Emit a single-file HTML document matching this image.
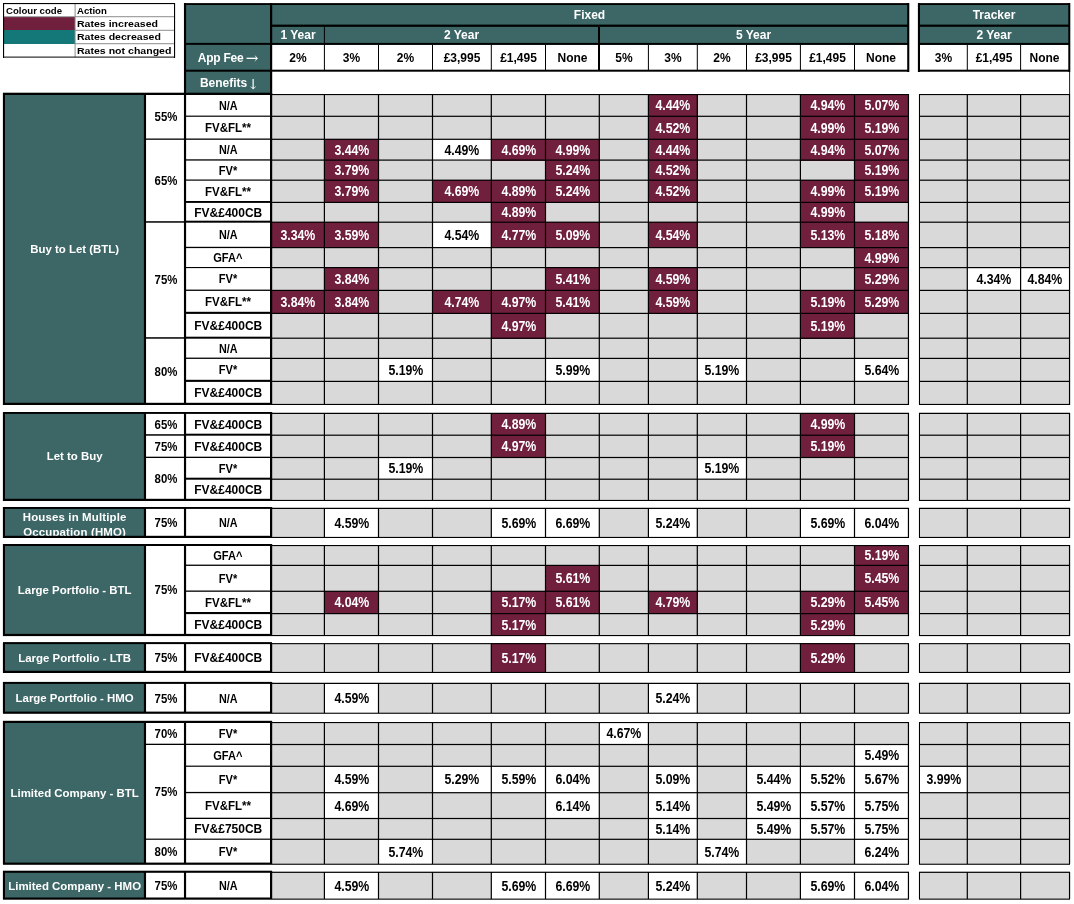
<!DOCTYPE html>
<html lang="en"><head><meta charset="utf-8"><title>Rates</title><style>
html,body{margin:0;padding:0;background:#fff}
#p{position:relative;width:1074px;height:904px;overflow:hidden;background:#fff;font-family:"Liberation Sans",sans-serif}
#p i,.t,.lg{position:absolute;display:block}
.t{display:flex;align-items:center;justify-content:center;text-align:center;white-space:nowrap;font-weight:bold}
.t span{display:inline-block}
.h{color:#fff;font-size:12px}
.ar{font:normal 15px "DejaVu Serif","DejaVu Sans",serif;line-height:10px;position:relative}
.a1{margin:0 0 0 -.6px;top:.7px;letter-spacing:0}
.a2{font-size:14px;margin:0 -3px;top:2.4px}
.f{color:#000;font-size:12px}
.n{color:#fff;font-size:11.45px;line-height:13px}
.n2{line-height:15px;letter-spacing:.15px}
.v{color:#000;font-size:12px}
.v span{transform:scaleX(.96)}
.v .s1{transform:none}
.v .s2{transform:scaleX(.9)}
.v .s3{transform:scaleX(.925)}
.lv span{transform:scaleX(.95)}
.d{color:#000;font-size:14px}
.d span{transform:scaleX(.88)}
.m{color:#fff}
.lg{font-size:9.6px;font-weight:bold;line-height:13px;color:#000;white-space:nowrap;transform-origin:0 50%}
.w{transform:scaleX(1.1)}
</style></head><body><div id="p">
<i style="left:4px;top:4px;width:171px;height:53px;background:#fff"></i>
<i style="left:4px;top:17px;width:71px;height:13px;background:#701f3c"></i>
<i style="left:4px;top:30px;width:71px;height:14px;background:#147878"></i>
<i style="left:185px;top:4px;width:723px;height:67px;background:#3d6666"></i>
<i style="left:272px;top:45px;width:636px;height:26px;background:#fff"></i>
<i style="left:185px;top:71px;width:86px;height:23px;background:#3d6666"></i>
<i style="left:919px;top:4px;width:150px;height:67px;background:#3d6666"></i>
<i style="left:920px;top:45px;width:149px;height:26px;background:#fff"></i>
<i style="left:4px;top:94px;width:141px;height:310px;background:#3d6666"></i>
<i style="left:145px;top:94px;width:126px;height:310px;background:#fff"></i>
<i style="left:271px;top:94px;width:638px;height:311px;background:#d9d9d9"></i>
<i style="left:919px;top:94px;width:151px;height:311px;background:#d9d9d9"></i>
<i style="left:648px;top:94px;width:50px;height:23px;background:#701f3c"></i>
<i style="left:800px;top:94px;width:55px;height:23px;background:#701f3c"></i>
<i style="left:854px;top:94px;width:55px;height:23px;background:#701f3c"></i>
<i style="left:648px;top:116px;width:50px;height:24px;background:#701f3c"></i>
<i style="left:800px;top:116px;width:55px;height:24px;background:#701f3c"></i>
<i style="left:854px;top:116px;width:55px;height:24px;background:#701f3c"></i>
<i style="left:324px;top:139px;width:55px;height:22px;background:#701f3c"></i>
<i style="left:432px;top:139px;width:60px;height:22px;background:#fff"></i>
<i style="left:491px;top:139px;width:55px;height:22px;background:#701f3c"></i>
<i style="left:545px;top:139px;width:55px;height:22px;background:#701f3c"></i>
<i style="left:648px;top:139px;width:50px;height:22px;background:#701f3c"></i>
<i style="left:800px;top:139px;width:55px;height:22px;background:#701f3c"></i>
<i style="left:854px;top:139px;width:55px;height:22px;background:#701f3c"></i>
<i style="left:324px;top:160px;width:55px;height:21px;background:#701f3c"></i>
<i style="left:545px;top:160px;width:55px;height:21px;background:#701f3c"></i>
<i style="left:648px;top:160px;width:50px;height:21px;background:#701f3c"></i>
<i style="left:854px;top:160px;width:55px;height:21px;background:#701f3c"></i>
<i style="left:324px;top:180px;width:55px;height:23px;background:#701f3c"></i>
<i style="left:432px;top:180px;width:60px;height:23px;background:#701f3c"></i>
<i style="left:491px;top:180px;width:55px;height:23px;background:#701f3c"></i>
<i style="left:545px;top:180px;width:55px;height:23px;background:#701f3c"></i>
<i style="left:648px;top:180px;width:50px;height:23px;background:#701f3c"></i>
<i style="left:800px;top:180px;width:55px;height:23px;background:#701f3c"></i>
<i style="left:854px;top:180px;width:55px;height:23px;background:#701f3c"></i>
<i style="left:491px;top:202px;width:55px;height:21px;background:#701f3c"></i>
<i style="left:800px;top:202px;width:55px;height:21px;background:#701f3c"></i>
<i style="left:272px;top:222px;width:53px;height:26px;background:#701f3c"></i>
<i style="left:324px;top:222px;width:55px;height:26px;background:#701f3c"></i>
<i style="left:432px;top:222px;width:60px;height:26px;background:#fff"></i>
<i style="left:491px;top:222px;width:55px;height:26px;background:#701f3c"></i>
<i style="left:545px;top:222px;width:55px;height:26px;background:#701f3c"></i>
<i style="left:648px;top:222px;width:50px;height:26px;background:#701f3c"></i>
<i style="left:800px;top:222px;width:55px;height:26px;background:#701f3c"></i>
<i style="left:854px;top:222px;width:55px;height:26px;background:#701f3c"></i>
<i style="left:854px;top:247px;width:55px;height:21px;background:#701f3c"></i>
<i style="left:324px;top:267px;width:55px;height:24px;background:#701f3c"></i>
<i style="left:545px;top:267px;width:55px;height:24px;background:#701f3c"></i>
<i style="left:648px;top:267px;width:50px;height:24px;background:#701f3c"></i>
<i style="left:854px;top:267px;width:55px;height:24px;background:#701f3c"></i>
<i style="left:967px;top:267px;width:54px;height:24px;background:#fff"></i>
<i style="left:1020px;top:267px;width:50px;height:24px;background:#fff"></i>
<i style="left:272px;top:290px;width:53px;height:24px;background:#701f3c"></i>
<i style="left:324px;top:290px;width:55px;height:24px;background:#701f3c"></i>
<i style="left:432px;top:290px;width:60px;height:24px;background:#701f3c"></i>
<i style="left:491px;top:290px;width:55px;height:24px;background:#701f3c"></i>
<i style="left:545px;top:290px;width:55px;height:24px;background:#701f3c"></i>
<i style="left:648px;top:290px;width:50px;height:24px;background:#701f3c"></i>
<i style="left:800px;top:290px;width:55px;height:24px;background:#701f3c"></i>
<i style="left:854px;top:290px;width:55px;height:24px;background:#701f3c"></i>
<i style="left:491px;top:313px;width:55px;height:26px;background:#701f3c"></i>
<i style="left:800px;top:313px;width:55px;height:26px;background:#701f3c"></i>
<i style="left:378px;top:358px;width:55px;height:24px;background:#fff"></i>
<i style="left:545px;top:358px;width:55px;height:24px;background:#fff"></i>
<i style="left:697px;top:358px;width:50px;height:24px;background:#fff"></i>
<i style="left:854px;top:358px;width:55px;height:24px;background:#fff"></i>
<i style="left:4px;top:413px;width:141px;height:87px;background:#3d6666"></i>
<i style="left:145px;top:413px;width:126px;height:87px;background:#fff"></i>
<i style="left:271px;top:412px;width:638px;height:89px;background:#d9d9d9"></i>
<i style="left:919px;top:412px;width:151px;height:89px;background:#d9d9d9"></i>
<i style="left:491px;top:413px;width:55px;height:23px;background:#701f3c"></i>
<i style="left:800px;top:413px;width:55px;height:23px;background:#701f3c"></i>
<i style="left:491px;top:435px;width:55px;height:23px;background:#701f3c"></i>
<i style="left:800px;top:435px;width:55px;height:23px;background:#701f3c"></i>
<i style="left:378px;top:457px;width:55px;height:23px;background:#fff"></i>
<i style="left:697px;top:457px;width:50px;height:23px;background:#fff"></i>
<i style="left:4px;top:508px;width:141px;height:29px;background:#3d6666"></i>
<i style="left:145px;top:508px;width:126px;height:29px;background:#fff"></i>
<i style="left:271px;top:507px;width:638px;height:31px;background:#d9d9d9"></i>
<i style="left:919px;top:507px;width:151px;height:31px;background:#d9d9d9"></i>
<i style="left:324px;top:508px;width:55px;height:30px;background:#fff"></i>
<i style="left:491px;top:508px;width:55px;height:30px;background:#fff"></i>
<i style="left:545px;top:508px;width:55px;height:30px;background:#fff"></i>
<i style="left:648px;top:508px;width:50px;height:30px;background:#fff"></i>
<i style="left:800px;top:508px;width:55px;height:30px;background:#fff"></i>
<i style="left:854px;top:508px;width:55px;height:30px;background:#fff"></i>
<i style="left:4px;top:545px;width:141px;height:90px;background:#3d6666"></i>
<i style="left:145px;top:545px;width:126px;height:90px;background:#fff"></i>
<i style="left:271px;top:545px;width:638px;height:91px;background:#d9d9d9"></i>
<i style="left:919px;top:545px;width:151px;height:91px;background:#d9d9d9"></i>
<i style="left:854px;top:545px;width:55px;height:21px;background:#701f3c"></i>
<i style="left:545px;top:565px;width:55px;height:27px;background:#701f3c"></i>
<i style="left:854px;top:565px;width:55px;height:27px;background:#701f3c"></i>
<i style="left:324px;top:591px;width:55px;height:23px;background:#701f3c"></i>
<i style="left:491px;top:591px;width:55px;height:23px;background:#701f3c"></i>
<i style="left:545px;top:591px;width:55px;height:23px;background:#701f3c"></i>
<i style="left:648px;top:591px;width:50px;height:23px;background:#701f3c"></i>
<i style="left:800px;top:591px;width:55px;height:23px;background:#701f3c"></i>
<i style="left:854px;top:591px;width:55px;height:23px;background:#701f3c"></i>
<i style="left:491px;top:613px;width:55px;height:23px;background:#701f3c"></i>
<i style="left:800px;top:613px;width:55px;height:23px;background:#701f3c"></i>
<i style="left:4px;top:643px;width:141px;height:29px;background:#3d6666"></i>
<i style="left:145px;top:643px;width:126px;height:29px;background:#fff"></i>
<i style="left:271px;top:643px;width:638px;height:30px;background:#d9d9d9"></i>
<i style="left:919px;top:643px;width:151px;height:30px;background:#d9d9d9"></i>
<i style="left:491px;top:643px;width:55px;height:30px;background:#701f3c"></i>
<i style="left:800px;top:643px;width:55px;height:30px;background:#701f3c"></i>
<i style="left:4px;top:683px;width:141px;height:30px;background:#3d6666"></i>
<i style="left:145px;top:683px;width:126px;height:30px;background:#fff"></i>
<i style="left:271px;top:682px;width:638px;height:31px;background:#d9d9d9"></i>
<i style="left:919px;top:682px;width:151px;height:31px;background:#d9d9d9"></i>
<i style="left:324px;top:683px;width:55px;height:31px;background:#fff"></i>
<i style="left:648px;top:683px;width:50px;height:31px;background:#fff"></i>
<i style="left:4px;top:722px;width:141px;height:142px;background:#3d6666"></i>
<i style="left:145px;top:722px;width:126px;height:142px;background:#fff"></i>
<i style="left:271px;top:722px;width:638px;height:142px;background:#d9d9d9"></i>
<i style="left:919px;top:722px;width:151px;height:142px;background:#d9d9d9"></i>
<i style="left:599px;top:722px;width:50px;height:23px;background:#fff"></i>
<i style="left:854px;top:744px;width:55px;height:23px;background:#fff"></i>
<i style="left:324px;top:766px;width:55px;height:27px;background:#fff"></i>
<i style="left:432px;top:766px;width:60px;height:27px;background:#fff"></i>
<i style="left:491px;top:766px;width:55px;height:27px;background:#fff"></i>
<i style="left:545px;top:766px;width:55px;height:27px;background:#fff"></i>
<i style="left:648px;top:766px;width:50px;height:27px;background:#fff"></i>
<i style="left:746px;top:766px;width:55px;height:27px;background:#fff"></i>
<i style="left:800px;top:766px;width:55px;height:27px;background:#fff"></i>
<i style="left:854px;top:766px;width:55px;height:27px;background:#fff"></i>
<i style="left:919px;top:766px;width:49px;height:27px;background:#fff"></i>
<i style="left:324px;top:792px;width:55px;height:27px;background:#fff"></i>
<i style="left:545px;top:792px;width:55px;height:27px;background:#fff"></i>
<i style="left:648px;top:792px;width:50px;height:27px;background:#fff"></i>
<i style="left:746px;top:792px;width:55px;height:27px;background:#fff"></i>
<i style="left:800px;top:792px;width:55px;height:27px;background:#fff"></i>
<i style="left:854px;top:792px;width:55px;height:27px;background:#fff"></i>
<i style="left:648px;top:818px;width:50px;height:22px;background:#fff"></i>
<i style="left:746px;top:818px;width:55px;height:22px;background:#fff"></i>
<i style="left:800px;top:818px;width:55px;height:22px;background:#fff"></i>
<i style="left:854px;top:818px;width:55px;height:22px;background:#fff"></i>
<i style="left:378px;top:839px;width:55px;height:26px;background:#fff"></i>
<i style="left:697px;top:839px;width:50px;height:26px;background:#fff"></i>
<i style="left:854px;top:839px;width:55px;height:26px;background:#fff"></i>
<i style="left:4px;top:872px;width:141px;height:27px;background:#3d6666"></i>
<i style="left:145px;top:872px;width:126px;height:27px;background:#fff"></i>
<i style="left:271px;top:871px;width:638px;height:28px;background:#d9d9d9"></i>
<i style="left:919px;top:871px;width:151px;height:28px;background:#d9d9d9"></i>
<i style="left:324px;top:872px;width:55px;height:28px;background:#fff"></i>
<i style="left:491px;top:872px;width:55px;height:28px;background:#fff"></i>
<i style="left:545px;top:872px;width:55px;height:28px;background:#fff"></i>
<i style="left:648px;top:872px;width:50px;height:28px;background:#fff"></i>
<i style="left:800px;top:872px;width:55px;height:28px;background:#fff"></i>
<i style="left:854px;top:872px;width:55px;height:28px;background:#fff"></i>
<div class="lg" style="left:6px;top:3.6px">Colour code</div>
<div class="lg" style="left:77px;top:3.6px">Action</div>
<div class="lg w" style="left:77px;top:16.6px">Rates increased</div>
<div class="lg w" style="left:77px;top:30.1px">Rates decreased</div>
<div class="lg w" style="left:77px;top:43.6px">Rates not changed</div>
<div class="t h" style="left:272px;top:5.19px;width:635px;height:19.6px;"><span>Fixed</span></div>
<div class="t h" style="left:272px;top:26.89px;width:52px;height:16.2px;"><span>1 Year</span></div>
<div class="t h" style="left:325px;top:26.89px;width:273px;height:16.2px;"><span>2 Year</span></div>
<div class="t h" style="left:600px;top:26.89px;width:307px;height:16.2px;"><span>5 Year</span></div>
<div class="t h" style="left:186px;top:45.54px;width:84.2px;height:24.9px;letter-spacing:-.25px;"><span>App Fee <b class="ar a1">→</b></span></div>
<div class="t h" style="left:186px;top:72.49px;width:84.2px;height:21px;"><span>Benefits <b class="ar a2">↓</b></span></div>
<div class="t f" style="left:272px;top:45.54px;width:52px;height:24.9px;"><span>2%</span></div>
<div class="t f" style="left:325px;top:45.54px;width:53px;height:24.9px;"><span>3%</span></div>
<div class="t f" style="left:379px;top:45.54px;width:53px;height:24.9px;"><span>2%</span></div>
<div class="t f" style="left:433px;top:45.54px;width:58px;height:24.9px;"><span>£3,995</span></div>
<div class="t f" style="left:492px;top:45.54px;width:53px;height:24.9px;"><span>£1,495</span></div>
<div class="t f" style="left:546px;top:45.54px;width:53px;height:24.9px;"><span>None</span></div>
<div class="t f" style="left:600px;top:45.54px;width:48px;height:24.9px;"><span>5%</span></div>
<div class="t f" style="left:649px;top:45.54px;width:48px;height:24.9px;"><span>3%</span></div>
<div class="t f" style="left:698px;top:45.54px;width:48px;height:24.9px;"><span>2%</span></div>
<div class="t f" style="left:747px;top:45.54px;width:53px;height:24.9px;"><span>£3,995</span></div>
<div class="t f" style="left:801px;top:45.54px;width:53px;height:24.9px;"><span>£1,495</span></div>
<div class="t f" style="left:855px;top:45.54px;width:52px;height:24.9px;"><span>None</span></div>
<div class="t h" style="left:920px;top:5.19px;width:148px;height:19.6px;"><span>Tracker</span></div>
<div class="t h" style="left:920px;top:26.89px;width:148px;height:16.2px;"><span>2 Year</span></div>
<div class="t f" style="left:920px;top:45.54px;width:47px;height:24.9px;"><span>3%</span></div>
<div class="t f" style="left:968px;top:45.54px;width:52px;height:24.9px;"><span>£1,495</span></div>
<div class="t f" style="left:1021px;top:45.54px;width:47px;height:24.9px;"><span>None</span></div>
<div class="t n" style="left:5px;top:95.03px;width:139.3px;height:308.3px;"><span>Buy to Let (BTL)</span></div>
<div class="t v lv" style="left:147.3px;top:95.09px;width:36.9px;height:43.8px;"><span>55%</span></div>
<div class="t v lv" style="left:147.3px;top:140.04px;width:36.9px;height:81.9px;"><span>65%</span></div>
<div class="t v lv" style="left:147.3px;top:222.49px;width:36.9px;height:115px;"><span>75%</span></div>
<div class="t v lv" style="left:147.3px;top:339.34px;width:36.9px;height:65.3px;"><span>80%</span></div>
<div class="t v" style="left:186.3px;top:95.59px;width:83.9px;height:20.8px;"><span class="s2">N/A</span></div>
<div class="t v" style="left:186.3px;top:116.99px;width:83.9px;height:22px;"><span>FV&FL**</span></div>
<div class="t v" style="left:186.3px;top:140.09px;width:83.9px;height:19.8px;"><span class="s2">N/A</span></div>
<div class="t v" style="left:186.3px;top:161.44px;width:83.9px;height:19.1px;"><span class="s3">FV*</span></div>
<div class="t v" style="left:186.3px;top:181.39px;width:83.9px;height:21.2px;"><span>FV&FL**</span></div>
<div class="t v" style="left:186.3px;top:203.59px;width:83.9px;height:18.8px;"><span class="s1">FV&£400CB</span></div>
<div class="t v" style="left:186.3px;top:222.79px;width:83.9px;height:24.4px;"><span class="s2">N/A</span></div>
<div class="t v" style="left:186.3px;top:248.49px;width:83.9px;height:19px;"><span class="s3">GFA^</span></div>
<div class="t v" style="left:186.3px;top:268.09px;width:83.9px;height:21.8px;"><span class="s3">FV*</span></div>
<div class="t v" style="left:186.3px;top:290.99px;width:83.9px;height:22px;"><span>FV&FL**</span></div>
<div class="t v" style="left:186.3px;top:314.09px;width:83.9px;height:23.8px;"><span class="s1">FV&£400CB</span></div>
<div class="t v" style="left:186.3px;top:339.39px;width:83.9px;height:19.2px;"><span class="s2">N/A</span></div>
<div class="t v" style="left:186.3px;top:358.99px;width:83.9px;height:22px;"><span class="s3">FV*</span></div>
<div class="t v" style="left:186.3px;top:381.94px;width:83.9px;height:22.1px;"><span class="s1">FV&£400CB</span></div>
<div class="t d m" style="left:649px;top:94.9px;width:48px;height:20.8px;"><span>4.44%</span></div>
<div class="t d m" style="left:801px;top:94.9px;width:53px;height:20.8px;"><span>4.94%</span></div>
<div class="t d m" style="left:855px;top:94.9px;width:53px;height:20.8px;"><span>5.07%</span></div>
<div class="t d m" style="left:649px;top:117.3px;width:48px;height:22px;"><span>4.52%</span></div>
<div class="t d m" style="left:801px;top:117.3px;width:53px;height:22px;"><span>4.99%</span></div>
<div class="t d m" style="left:855px;top:117.3px;width:53px;height:22px;"><span>5.19%</span></div>
<div class="t d m" style="left:325px;top:140.4px;width:53px;height:19.8px;"><span>3.44%</span></div>
<div class="t d" style="left:433px;top:140.4px;width:58px;height:19.8px;"><span>4.49%</span></div>
<div class="t d m" style="left:492px;top:140.4px;width:53px;height:19.8px;"><span>4.69%</span></div>
<div class="t d m" style="left:546px;top:140.4px;width:53px;height:19.8px;"><span>4.99%</span></div>
<div class="t d m" style="left:649px;top:140.4px;width:48px;height:19.8px;"><span>4.44%</span></div>
<div class="t d m" style="left:801px;top:140.4px;width:53px;height:19.8px;"><span>4.94%</span></div>
<div class="t d m" style="left:855px;top:140.4px;width:53px;height:19.8px;"><span>5.07%</span></div>
<div class="t d m" style="left:325px;top:160.75px;width:53px;height:19.1px;"><span>3.79%</span></div>
<div class="t d m" style="left:546px;top:160.75px;width:53px;height:19.1px;"><span>5.24%</span></div>
<div class="t d m" style="left:649px;top:160.75px;width:48px;height:19.1px;"><span>4.52%</span></div>
<div class="t d m" style="left:855px;top:160.75px;width:53px;height:19.1px;"><span>5.19%</span></div>
<div class="t d m" style="left:325px;top:180.7px;width:53px;height:21.2px;"><span>3.79%</span></div>
<div class="t d m" style="left:433px;top:180.7px;width:58px;height:21.2px;"><span>4.69%</span></div>
<div class="t d m" style="left:492px;top:180.7px;width:53px;height:21.2px;"><span>4.89%</span></div>
<div class="t d m" style="left:546px;top:180.7px;width:53px;height:21.2px;"><span>5.24%</span></div>
<div class="t d m" style="left:649px;top:180.7px;width:48px;height:21.2px;"><span>4.52%</span></div>
<div class="t d m" style="left:801px;top:180.7px;width:53px;height:21.2px;"><span>4.99%</span></div>
<div class="t d m" style="left:855px;top:180.7px;width:53px;height:21.2px;"><span>5.19%</span></div>
<div class="t d m" style="left:492px;top:202.9px;width:53px;height:18.8px;"><span>4.89%</span></div>
<div class="t d m" style="left:801px;top:202.9px;width:53px;height:18.8px;"><span>4.99%</span></div>
<div class="t d m" style="left:272px;top:223.1px;width:52px;height:24.4px;"><span>3.34%</span></div>
<div class="t d m" style="left:325px;top:223.1px;width:53px;height:24.4px;"><span>3.59%</span></div>
<div class="t d" style="left:433px;top:223.1px;width:58px;height:24.4px;"><span>4.54%</span></div>
<div class="t d m" style="left:492px;top:223.1px;width:53px;height:24.4px;"><span>4.77%</span></div>
<div class="t d m" style="left:546px;top:223.1px;width:53px;height:24.4px;"><span>5.09%</span></div>
<div class="t d m" style="left:649px;top:223.1px;width:48px;height:24.4px;"><span>4.54%</span></div>
<div class="t d m" style="left:801px;top:223.1px;width:53px;height:24.4px;"><span>5.13%</span></div>
<div class="t d m" style="left:855px;top:223.1px;width:53px;height:24.4px;"><span>5.18%</span></div>
<div class="t d m" style="left:855px;top:248.8px;width:53px;height:19px;"><span>4.99%</span></div>
<div class="t d m" style="left:325px;top:268.4px;width:53px;height:21.8px;"><span>3.84%</span></div>
<div class="t d m" style="left:546px;top:268.4px;width:53px;height:21.8px;"><span>5.41%</span></div>
<div class="t d m" style="left:649px;top:268.4px;width:48px;height:21.8px;"><span>4.59%</span></div>
<div class="t d m" style="left:855px;top:268.4px;width:53px;height:21.8px;"><span>5.29%</span></div>
<div class="t d" style="left:968px;top:268.4px;width:52px;height:21.8px;"><span>4.34%</span></div>
<div class="t d" style="left:1021px;top:268.4px;width:48px;height:21.8px;"><span>4.84%</span></div>
<div class="t d m" style="left:272px;top:291.3px;width:52px;height:22px;"><span>3.84%</span></div>
<div class="t d m" style="left:325px;top:291.3px;width:53px;height:22px;"><span>3.84%</span></div>
<div class="t d m" style="left:433px;top:291.3px;width:58px;height:22px;"><span>4.74%</span></div>
<div class="t d m" style="left:492px;top:291.3px;width:53px;height:22px;"><span>4.97%</span></div>
<div class="t d m" style="left:546px;top:291.3px;width:53px;height:22px;"><span>5.41%</span></div>
<div class="t d m" style="left:649px;top:291.3px;width:48px;height:22px;"><span>4.59%</span></div>
<div class="t d m" style="left:801px;top:291.3px;width:53px;height:22px;"><span>5.19%</span></div>
<div class="t d m" style="left:855px;top:291.3px;width:53px;height:22px;"><span>5.29%</span></div>
<div class="t d m" style="left:492px;top:314.4px;width:53px;height:23.8px;"><span>4.97%</span></div>
<div class="t d m" style="left:801px;top:314.4px;width:53px;height:23.8px;"><span>5.19%</span></div>
<div class="t d" style="left:379px;top:359.3px;width:53px;height:22px;"><span>5.19%</span></div>
<div class="t d" style="left:546px;top:359.3px;width:53px;height:22px;"><span>5.99%</span></div>
<div class="t d" style="left:698px;top:359.3px;width:48px;height:22px;"><span>5.19%</span></div>
<div class="t d" style="left:855px;top:359.3px;width:53px;height:22px;"><span>5.64%</span></div>
<div class="t n" style="left:5px;top:413.68px;width:139.3px;height:85px;"><span>Let to Buy</span></div>
<div class="t v lv" style="left:147.3px;top:414.59px;width:36.9px;height:20.8px;"><span>65%</span></div>
<div class="t v lv" style="left:147.3px;top:436.34px;width:36.9px;height:21.3px;"><span>75%</span></div>
<div class="t v lv" style="left:147.3px;top:457.99px;width:36.9px;height:42px;"><span>80%</span></div>
<div class="t v" style="left:186.3px;top:414.59px;width:83.9px;height:20.8px;"><span class="s1">FV&£400CB</span></div>
<div class="t v" style="left:186.3px;top:436.34px;width:83.9px;height:21.3px;"><span class="s1">FV&£400CB</span></div>
<div class="t v" style="left:186.3px;top:458.64px;width:83.9px;height:20.7px;"><span class="s3">FV*</span></div>
<div class="t v" style="left:186.3px;top:479.84px;width:83.9px;height:20.3px;"><span class="s1">FV&£400CB</span></div>
<div class="t d m" style="left:492px;top:413.9px;width:53px;height:20.8px;"><span>4.89%</span></div>
<div class="t d m" style="left:801px;top:413.9px;width:53px;height:20.8px;"><span>4.99%</span></div>
<div class="t d m" style="left:492px;top:435.65px;width:53px;height:21.3px;"><span>4.97%</span></div>
<div class="t d m" style="left:801px;top:435.65px;width:53px;height:21.3px;"><span>5.19%</span></div>
<div class="t d" style="left:379px;top:457.95px;width:53px;height:20.7px;"><span>5.19%</span></div>
<div class="t d" style="left:698px;top:457.95px;width:48px;height:20.7px;"><span>5.19%</span></div>
<div class="t n n2" style="left:5px;top:510px;width:139.3px;height:29px;"><span>Houses in Multiple<br>Occupation (HMO)</span></div>
<div class="t v lv" style="left:147.3px;top:508.94px;width:36.9px;height:28.1px;"><span>75%</span></div>
<div class="t v" style="left:186.3px;top:508.94px;width:83.9px;height:28.1px;"><span class="s2">N/A</span></div>
<div class="t d" style="left:325px;top:509.25px;width:53px;height:28.1px;"><span>4.59%</span></div>
<div class="t d" style="left:492px;top:509.25px;width:53px;height:28.1px;"><span>5.69%</span></div>
<div class="t d" style="left:546px;top:509.25px;width:53px;height:28.1px;"><span>6.69%</span></div>
<div class="t d" style="left:649px;top:509.25px;width:48px;height:28.1px;"><span>5.24%</span></div>
<div class="t d" style="left:801px;top:509.25px;width:53px;height:28.1px;"><span>5.69%</span></div>
<div class="t d" style="left:855px;top:509.25px;width:53px;height:28.1px;"><span>6.04%</span></div>
<div class="t n" style="left:5px;top:546.13px;width:139.3px;height:88.1px;"><span>Large Portfolio - BTL</span></div>
<div class="t v lv" style="left:147.3px;top:545.44px;width:36.9px;height:89.1px;"><span>75%</span></div>
<div class="t v" style="left:186.3px;top:546.54px;width:83.9px;height:18.9px;"><span class="s3">GFA^</span></div>
<div class="t v" style="left:186.3px;top:566.54px;width:83.9px;height:24.9px;"><span class="s3">FV*</span></div>
<div class="t v" style="left:186.3px;top:592.34px;width:83.9px;height:21.3px;"><span>FV&FL**</span></div>
<div class="t v" style="left:186.3px;top:614.49px;width:83.9px;height:21px;"><span class="s1">FV&£400CB</span></div>
<div class="t d m" style="left:855px;top:545.85px;width:53px;height:18.9px;"><span>5.19%</span></div>
<div class="t d m" style="left:546px;top:565.85px;width:53px;height:24.9px;"><span>5.61%</span></div>
<div class="t d m" style="left:855px;top:565.85px;width:53px;height:24.9px;"><span>5.45%</span></div>
<div class="t d m" style="left:325px;top:591.65px;width:53px;height:21.3px;"><span>4.04%</span></div>
<div class="t d m" style="left:492px;top:591.65px;width:53px;height:21.3px;"><span>5.17%</span></div>
<div class="t d m" style="left:546px;top:591.65px;width:53px;height:21.3px;"><span>5.61%</span></div>
<div class="t d m" style="left:649px;top:591.65px;width:48px;height:21.3px;"><span>4.79%</span></div>
<div class="t d m" style="left:801px;top:591.65px;width:53px;height:21.3px;"><span>5.29%</span></div>
<div class="t d m" style="left:855px;top:591.65px;width:53px;height:21.3px;"><span>5.45%</span></div>
<div class="t d m" style="left:492px;top:614.8px;width:53px;height:21px;"><span>5.17%</span></div>
<div class="t d m" style="left:801px;top:614.8px;width:53px;height:21px;"><span>5.29%</span></div>
<div class="t n" style="left:5px;top:644.73px;width:139.3px;height:26.9px;"><span>Large Portfolio - LTB</span></div>
<div class="t v lv" style="left:147.3px;top:644.04px;width:36.9px;height:27.9px;"><span>75%</span></div>
<div class="t v" style="left:186.3px;top:644.04px;width:83.9px;height:27.9px;"><span class="s1">FV&£400CB</span></div>
<div class="t d m" style="left:492px;top:644.35px;width:53px;height:27.9px;"><span>5.17%</span></div>
<div class="t d m" style="left:801px;top:644.35px;width:53px;height:27.9px;"><span>5.29%</span></div>
<div class="t n" style="left:5px;top:684.23px;width:139.3px;height:27.9px;"><span>Large Portfolio - HMO</span></div>
<div class="t v lv" style="left:147.3px;top:684.54px;width:36.9px;height:28.9px;"><span>75%</span></div>
<div class="t v" style="left:186.3px;top:684.54px;width:83.9px;height:28.9px;"><span class="s2">N/A</span></div>
<div class="t d" style="left:325px;top:683.85px;width:53px;height:28.9px;"><span>4.59%</span></div>
<div class="t d" style="left:649px;top:683.85px;width:48px;height:28.9px;"><span>5.24%</span></div>
<div class="t n" style="left:5px;top:723.18px;width:139.3px;height:140px;"><span>Limited Company - BTL</span></div>
<div class="t v lv" style="left:147.3px;top:723.49px;width:36.9px;height:21px;"><span>70%</span></div>
<div class="t v lv" style="left:147.3px;top:745.09px;width:36.9px;height:93.8px;"><span>75%</span></div>
<div class="t v lv" style="left:147.3px;top:839.99px;width:36.9px;height:24px;"><span>80%</span></div>
<div class="t v" style="left:186.3px;top:723.49px;width:83.9px;height:21px;"><span class="s3">FV*</span></div>
<div class="t v" style="left:186.3px;top:745.59px;width:83.9px;height:20.8px;"><span class="s3">GFA^</span></div>
<div class="t v" style="left:186.3px;top:767.29px;width:83.9px;height:25.4px;"><span class="s3">FV*</span></div>
<div class="t v" style="left:186.3px;top:793.59px;width:83.9px;height:24.8px;"><span>FV&FL**</span></div>
<div class="t v" style="left:186.3px;top:819.09px;width:83.9px;height:19.8px;"><span class="s1">FV&£750CB</span></div>
<div class="t v" style="left:186.3px;top:839.99px;width:83.9px;height:24px;"><span class="s3">FV*</span></div>
<div class="t d" style="left:600px;top:722.8px;width:48px;height:21px;"><span>4.67%</span></div>
<div class="t d" style="left:855px;top:744.9px;width:53px;height:20.8px;"><span>5.49%</span></div>
<div class="t d" style="left:325px;top:766.6px;width:53px;height:25.4px;"><span>4.59%</span></div>
<div class="t d" style="left:433px;top:766.6px;width:58px;height:25.4px;"><span>5.29%</span></div>
<div class="t d" style="left:492px;top:766.6px;width:53px;height:25.4px;"><span>5.59%</span></div>
<div class="t d" style="left:546px;top:766.6px;width:53px;height:25.4px;"><span>6.04%</span></div>
<div class="t d" style="left:649px;top:766.6px;width:48px;height:25.4px;"><span>5.09%</span></div>
<div class="t d" style="left:747px;top:766.6px;width:53px;height:25.4px;"><span>5.44%</span></div>
<div class="t d" style="left:801px;top:766.6px;width:53px;height:25.4px;"><span>5.52%</span></div>
<div class="t d" style="left:855px;top:766.6px;width:53px;height:25.4px;"><span>5.67%</span></div>
<div class="t d" style="left:920px;top:766.6px;width:47px;height:25.4px;"><span>3.99%</span></div>
<div class="t d" style="left:325px;top:793.9px;width:53px;height:24.8px;"><span>4.69%</span></div>
<div class="t d" style="left:546px;top:793.9px;width:53px;height:24.8px;"><span>6.14%</span></div>
<div class="t d" style="left:649px;top:793.9px;width:48px;height:24.8px;"><span>5.14%</span></div>
<div class="t d" style="left:747px;top:793.9px;width:53px;height:24.8px;"><span>5.49%</span></div>
<div class="t d" style="left:801px;top:793.9px;width:53px;height:24.8px;"><span>5.57%</span></div>
<div class="t d" style="left:855px;top:793.9px;width:53px;height:24.8px;"><span>5.75%</span></div>
<div class="t d" style="left:649px;top:819.4px;width:48px;height:19.8px;"><span>5.14%</span></div>
<div class="t d" style="left:747px;top:819.4px;width:53px;height:19.8px;"><span>5.49%</span></div>
<div class="t d" style="left:801px;top:819.4px;width:53px;height:19.8px;"><span>5.57%</span></div>
<div class="t d" style="left:855px;top:819.4px;width:53px;height:19.8px;"><span>5.75%</span></div>
<div class="t d" style="left:379px;top:840.3px;width:53px;height:24px;"><span>5.74%</span></div>
<div class="t d" style="left:698px;top:840.3px;width:48px;height:24px;"><span>5.74%</span></div>
<div class="t d" style="left:855px;top:840.3px;width:53px;height:24px;"><span>6.24%</span></div>
<div class="t n" style="left:5px;top:873.68px;width:139.3px;height:25px;"><span>Limited Company - HMO</span></div>
<div class="t v lv" style="left:147.3px;top:873.04px;width:36.9px;height:25.9px;"><span>75%</span></div>
<div class="t v" style="left:186.3px;top:873.04px;width:83.9px;height:25.9px;"><span class="s2">N/A</span></div>
<div class="t d" style="left:325px;top:873.35px;width:53px;height:25.9px;"><span>4.59%</span></div>
<div class="t d" style="left:492px;top:873.35px;width:53px;height:25.9px;"><span>5.69%</span></div>
<div class="t d" style="left:546px;top:873.35px;width:53px;height:25.9px;"><span>6.69%</span></div>
<div class="t d" style="left:649px;top:873.35px;width:48px;height:25.9px;"><span>5.24%</span></div>
<div class="t d" style="left:801px;top:873.35px;width:53px;height:25.9px;"><span>5.69%</span></div>
<div class="t d" style="left:855px;top:873.35px;width:53px;height:25.9px;"><span>6.04%</span></div>
<i style="left:75px;top:16px;width:99.5px;height:1px;background:rgba(140,140,140,0.8)"></i>
<i style="left:75px;top:17px;width:99.5px;height:1px;background:rgba(140,140,140,0.2)"></i>
<i style="left:75px;top:29px;width:99.5px;height:1px;background:rgba(140,140,140,0.2)"></i>
<i style="left:75px;top:30px;width:99.5px;height:1px;background:rgba(140,140,140,0.8)"></i>
<i style="left:75px;top:43px;width:99.5px;height:1px;background:rgba(140,140,140,0.8)"></i>
<i style="left:75px;top:44px;width:99.5px;height:1px;background:rgba(140,140,140,0.2)"></i>
<i style="left:4px;top:16px;width:71px;height:1px;background:rgba(140,140,140,0.8)"></i>
<i style="left:4px;top:17px;width:71px;height:1px;background:rgba(140,140,140,0.2)"></i>
<i style="left:74px;top:4px;width:1px;height:53px;background:rgba(140,140,140,0.4)"></i>
<i style="left:75px;top:4px;width:1px;height:53px;background:rgba(140,140,140,0.6)"></i>
<i style="left:3px;top:3px;width:172px;height:1px;background:rgb(0,0,0)"></i>
<i style="left:3px;top:4px;width:172px;height:1px;background:rgba(0,0,0,0.1)"></i>
<i style="left:3px;top:56px;width:172px;height:1px;background:rgba(0,0,0,0.4)"></i>
<i style="left:3px;top:57px;width:172px;height:1px;background:rgba(0,0,0,0.6)"></i>
<i style="left:3px;top:3px;width:1px;height:54.6px;background:rgb(0,0,0)"></i>
<i style="left:4px;top:3px;width:1px;height:54.6px;background:rgba(0,0,0,0.1)"></i>
<i style="left:174px;top:3px;width:1px;height:54.6px;background:rgb(0,0,0)"></i>
<i style="left:175px;top:3px;width:1px;height:54.6px;background:rgba(0,0,0,0.1)"></i>
<i style="left:323px;top:26.8px;width:1px;height:42.9px;background:rgba(0,0,0,0.1)"></i>
<i style="left:324px;top:26.8px;width:1px;height:42.9px;background:rgba(0,0,0,0.9)"></i>
<i style="left:378px;top:44.8px;width:1px;height:24.9px;background:rgb(0,0,0)"></i>
<i style="left:432px;top:44.8px;width:1px;height:24.9px;background:rgb(0,0,0)"></i>
<i style="left:490px;top:44.8px;width:1px;height:24.9px;background:rgba(0,0,0,0.2)"></i>
<i style="left:491px;top:44.8px;width:1px;height:24.9px;background:rgba(0,0,0,0.8)"></i>
<i style="left:545px;top:44.8px;width:1px;height:24.9px;background:rgb(0,0,0)"></i>
<i style="left:598px;top:26.8px;width:1px;height:42.9px;background:rgb(0,0,0)"></i>
<i style="left:599px;top:26.8px;width:1px;height:42.9px;background:rgb(0,0,0)"></i>
<i style="left:647px;top:44.8px;width:1px;height:24.9px;background:rgba(0,0,0,0.1)"></i>
<i style="left:648px;top:44.8px;width:1px;height:24.9px;background:rgba(0,0,0,0.9)"></i>
<i style="left:696px;top:44.8px;width:1px;height:24.9px;background:rgba(0,0,0,0.2)"></i>
<i style="left:697px;top:44.8px;width:1px;height:24.9px;background:rgba(0,0,0,0.8)"></i>
<i style="left:746px;top:44.8px;width:1px;height:24.9px;background:rgb(0,0,0)"></i>
<i style="left:799px;top:44.8px;width:1px;height:24.9px;background:rgba(0,0,0,0.1)"></i>
<i style="left:800px;top:44.8px;width:1px;height:24.9px;background:rgba(0,0,0,0.9)"></i>
<i style="left:854px;top:44.8px;width:1px;height:24.9px;background:rgb(0,0,0)"></i>
<i style="left:183.95px;top:3px;width:725.35px;height:1px;background:rgba(0,0,0,0.9)"></i>
<i style="left:183.95px;top:4px;width:725.35px;height:1px;background:rgb(0,0,0)"></i>
<i style="left:272px;top:24px;width:637.3px;height:1px;background:rgba(0,0,0,0.4)"></i>
<i style="left:272px;top:25px;width:637.3px;height:1px;background:rgb(0,0,0)"></i>
<i style="left:272px;top:26px;width:637.3px;height:1px;background:rgba(0,0,0,0.85)"></i>
<i style="left:183.95px;top:42px;width:725.35px;height:1px;background:rgba(0,0,0,0.1)"></i>
<i style="left:183.95px;top:43px;width:725.35px;height:1px;background:rgb(0,0,0)"></i>
<i style="left:183.95px;top:44px;width:725.35px;height:1px;background:rgba(0,0,0,0.85)"></i>
<i style="left:183.95px;top:69px;width:725.35px;height:1px;background:rgba(0,0,0,0.3)"></i>
<i style="left:183.95px;top:70px;width:725.35px;height:1px;background:rgb(0,0,0)"></i>
<i style="left:183.95px;top:71px;width:725.35px;height:1px;background:rgba(0,0,0,0.7)"></i>
<i style="left:183px;top:3.1px;width:1px;height:91.6px;background:rgba(0,0,0,0.05)"></i>
<i style="left:184px;top:3.1px;width:1px;height:91.6px;background:rgb(0,0,0)"></i>
<i style="left:185px;top:3.1px;width:1px;height:91.6px;background:rgb(0,0,0)"></i>
<i style="left:186px;top:3.1px;width:1px;height:91.6px;background:rgba(0,0,0,0.1)"></i>
<i style="left:270px;top:3.1px;width:1px;height:91.6px;background:rgb(0,0,0)"></i>
<i style="left:271px;top:3.1px;width:1px;height:91.6px;background:rgb(0,0,0)"></i>
<i style="left:272px;top:3.1px;width:1px;height:91.6px;background:rgba(0,0,0,0.2)"></i>
<i style="left:907px;top:3.1px;width:1px;height:68.6px;background:rgba(0,0,0,0.8)"></i>
<i style="left:908px;top:3.1px;width:1px;height:68.6px;background:rgb(0,0,0)"></i>
<i style="left:909px;top:3.1px;width:1px;height:68.6px;background:rgba(0,0,0,0.3)"></i>
<i style="left:966px;top:44.8px;width:1px;height:24.9px;background:rgba(0,0,0,0.2)"></i>
<i style="left:967px;top:44.8px;width:1px;height:24.9px;background:rgba(0,0,0,0.8)"></i>
<i style="left:1020px;top:44.8px;width:1px;height:24.9px;background:rgba(0,0,0,0.9)"></i>
<i style="left:1021px;top:44.8px;width:1px;height:24.9px;background:rgba(0,0,0,0.1)"></i>
<i style="left:917.9px;top:3px;width:152.4px;height:1px;background:rgba(0,0,0,0.9)"></i>
<i style="left:917.9px;top:4px;width:152.4px;height:1px;background:rgb(0,0,0)"></i>
<i style="left:917.9px;top:24px;width:152.4px;height:1px;background:rgba(0,0,0,0.4)"></i>
<i style="left:917.9px;top:25px;width:152.4px;height:1px;background:rgb(0,0,0)"></i>
<i style="left:917.9px;top:26px;width:152.4px;height:1px;background:rgba(0,0,0,0.8)"></i>
<i style="left:917.9px;top:42px;width:152.4px;height:1px;background:rgba(0,0,0,0.1)"></i>
<i style="left:917.9px;top:43px;width:152.4px;height:1px;background:rgb(0,0,0)"></i>
<i style="left:917.9px;top:44px;width:152.4px;height:1px;background:rgba(0,0,0,0.9)"></i>
<i style="left:917.9px;top:69px;width:152.4px;height:1px;background:rgba(0,0,0,0.3)"></i>
<i style="left:917.9px;top:70px;width:152.4px;height:1px;background:rgb(0,0,0)"></i>
<i style="left:917.9px;top:71px;width:152.4px;height:1px;background:rgba(0,0,0,0.7)"></i>
<i style="left:917px;top:3.1px;width:1px;height:68.6px;background:rgba(0,0,0,0.1)"></i>
<i style="left:918px;top:3.1px;width:1px;height:68.6px;background:rgb(0,0,0)"></i>
<i style="left:919px;top:3.1px;width:1px;height:68.6px;background:rgb(0,0,0)"></i>
<i style="left:1068px;top:3.1px;width:1px;height:68.6px;background:rgba(0,0,0,0.7)"></i>
<i style="left:1069px;top:3.1px;width:1px;height:68.6px;background:rgb(0,0,0)"></i>
<i style="left:1070px;top:3.1px;width:1px;height:68.6px;background:rgba(0,0,0,0.3)"></i>
<i style="left:1069px;top:71.7px;width:1px;height:22.3px;background:rgba(0,0,0,0.8)"></i>
<i style="left:1070px;top:71.7px;width:1px;height:22.3px;background:rgba(0,0,0,0.1)"></i>
<i style="left:3px;top:92px;width:269.2px;height:1px;background:rgba(0,0,0,0.3)"></i>
<i style="left:3px;top:93px;width:269.2px;height:1px;background:rgb(0,0,0)"></i>
<i style="left:3px;top:94px;width:269.2px;height:1px;background:rgb(0,0,0)"></i>
<i style="left:272.2px;top:94px;width:636.85px;height:1px;background:rgb(0,0,0)"></i>
<i style="left:272.2px;top:95px;width:636.85px;height:1px;background:rgba(0,0,0,0.1)"></i>
<i style="left:918.95px;top:94px;width:151.2px;height:1px;background:rgb(0,0,0)"></i>
<i style="left:918.95px;top:95px;width:151.2px;height:1px;background:rgba(0,0,0,0.1)"></i>
<i style="left:186.3px;top:115px;width:83.9px;height:1px;background:rgba(0,0,0,0.4)"></i>
<i style="left:186.3px;top:116px;width:83.9px;height:1px;background:rgba(0,0,0,0.8)"></i>
<i style="left:272.2px;top:115px;width:636.85px;height:1px;background:rgba(0,0,0,0.3)"></i>
<i style="left:272.2px;top:116px;width:636.85px;height:1px;background:rgba(0,0,0,0.9)"></i>
<i style="left:918.95px;top:115px;width:151.2px;height:1px;background:rgba(0,0,0,0.3)"></i>
<i style="left:918.95px;top:116px;width:151.2px;height:1px;background:rgba(0,0,0,0.9)"></i>
<i style="left:186.3px;top:138px;width:83.9px;height:1px;background:rgba(0,0,0,0.5)"></i>
<i style="left:186.3px;top:139px;width:83.9px;height:1px;background:rgba(0,0,0,0.8)"></i>
<i style="left:146.3px;top:138px;width:37.9px;height:1px;background:rgba(0,0,0,0.5)"></i>
<i style="left:146.3px;top:139px;width:37.9px;height:1px;background:rgba(0,0,0,0.8)"></i>
<i style="left:272.2px;top:138px;width:636.85px;height:1px;background:rgba(0,0,0,0.3)"></i>
<i style="left:272.2px;top:139px;width:636.85px;height:1px;background:rgba(0,0,0,0.9)"></i>
<i style="left:918.95px;top:138px;width:151.2px;height:1px;background:rgba(0,0,0,0.3)"></i>
<i style="left:918.95px;top:139px;width:151.2px;height:1px;background:rgba(0,0,0,0.9)"></i>
<i style="left:186.3px;top:159px;width:83.9px;height:1px;background:rgba(0,0,0,0.7)"></i>
<i style="left:186.3px;top:160px;width:83.9px;height:1px;background:rgba(0,0,0,0.6)"></i>
<i style="left:272.2px;top:159px;width:636.85px;height:1px;background:rgba(0,0,0,0.5)"></i>
<i style="left:272.2px;top:160px;width:636.85px;height:1px;background:rgba(0,0,0,0.7)"></i>
<i style="left:918.95px;top:159px;width:151.2px;height:1px;background:rgba(0,0,0,0.5)"></i>
<i style="left:918.95px;top:160px;width:151.2px;height:1px;background:rgba(0,0,0,0.7)"></i>
<i style="left:186.3px;top:179px;width:83.9px;height:1px;background:rgba(0,0,0,0.5)"></i>
<i style="left:186.3px;top:180px;width:83.9px;height:1px;background:rgba(0,0,0,0.7)"></i>
<i style="left:272.2px;top:179px;width:636.85px;height:1px;background:rgba(0,0,0,0.4)"></i>
<i style="left:272.2px;top:180px;width:636.85px;height:1px;background:rgba(0,0,0,0.8)"></i>
<i style="left:918.95px;top:179px;width:151.2px;height:1px;background:rgba(0,0,0,0.4)"></i>
<i style="left:918.95px;top:180px;width:151.2px;height:1px;background:rgba(0,0,0,0.8)"></i>
<i style="left:186.3px;top:201px;width:83.9px;height:1px;background:rgb(0,0,0)"></i>
<i style="left:186.3px;top:202px;width:83.9px;height:1px;background:rgba(0,0,0,0.9)"></i>
<i style="left:272.2px;top:201px;width:636.85px;height:1px;background:rgba(0,0,0,0.2)"></i>
<i style="left:272.2px;top:202px;width:636.85px;height:1px;background:rgb(0,0,0)"></i>
<i style="left:918.95px;top:201px;width:151.2px;height:1px;background:rgba(0,0,0,0.2)"></i>
<i style="left:918.95px;top:202px;width:151.2px;height:1px;background:rgb(0,0,0)"></i>
<i style="left:186.3px;top:220px;width:83.9px;height:1px;background:rgba(0,0,0,0.3)"></i>
<i style="left:186.3px;top:221px;width:83.9px;height:1px;background:rgb(0,0,0)"></i>
<i style="left:186.3px;top:222px;width:83.9px;height:1px;background:rgba(0,0,0,0.7)"></i>
<i style="left:146.3px;top:221px;width:37.9px;height:1px;background:rgba(0,0,0,0.8)"></i>
<i style="left:146.3px;top:222px;width:37.9px;height:1px;background:rgba(0,0,0,0.7)"></i>
<i style="left:272.2px;top:221px;width:636.85px;height:1px;background:rgba(0,0,0,0.4)"></i>
<i style="left:272.2px;top:222px;width:636.85px;height:1px;background:rgba(0,0,0,0.8)"></i>
<i style="left:918.95px;top:221px;width:151.2px;height:1px;background:rgba(0,0,0,0.4)"></i>
<i style="left:918.95px;top:222px;width:151.2px;height:1px;background:rgba(0,0,0,0.8)"></i>
<i style="left:186.3px;top:246px;width:83.9px;height:1px;background:rgba(0,0,0,0.2)"></i>
<i style="left:186.3px;top:247px;width:83.9px;height:1px;background:rgb(0,0,0)"></i>
<i style="left:186.3px;top:248px;width:83.9px;height:1px;background:rgba(0,0,0,0.1)"></i>
<i style="left:272.2px;top:247px;width:636.85px;height:1px;background:rgb(0,0,0)"></i>
<i style="left:272.2px;top:248px;width:636.85px;height:1px;background:rgba(0,0,0,0.2)"></i>
<i style="left:918.95px;top:247px;width:151.2px;height:1px;background:rgb(0,0,0)"></i>
<i style="left:918.95px;top:248px;width:151.2px;height:1px;background:rgba(0,0,0,0.2)"></i>
<i style="left:186.3px;top:267px;width:83.9px;height:1px;background:rgb(0,0,0)"></i>
<i style="left:186.3px;top:268px;width:83.9px;height:1px;background:rgba(0,0,0,0.1)"></i>
<i style="left:272.2px;top:267px;width:636.85px;height:1px;background:rgb(0,0,0)"></i>
<i style="left:272.2px;top:268px;width:636.85px;height:1px;background:rgba(0,0,0,0.2)"></i>
<i style="left:918.95px;top:267px;width:151.2px;height:1px;background:rgb(0,0,0)"></i>
<i style="left:918.95px;top:268px;width:151.2px;height:1px;background:rgba(0,0,0,0.2)"></i>
<i style="left:186.3px;top:289px;width:83.9px;height:1px;background:rgba(0,0,0,0.4)"></i>
<i style="left:186.3px;top:290px;width:83.9px;height:1px;background:rgba(0,0,0,0.9)"></i>
<i style="left:272.2px;top:289px;width:636.85px;height:1px;background:rgba(0,0,0,0.2)"></i>
<i style="left:272.2px;top:290px;width:636.85px;height:1px;background:rgb(0,0,0)"></i>
<i style="left:918.95px;top:289px;width:151.2px;height:1px;background:rgba(0,0,0,0.2)"></i>
<i style="left:918.95px;top:290px;width:151.2px;height:1px;background:rgb(0,0,0)"></i>
<i style="left:186.3px;top:311px;width:83.9px;height:1px;background:rgba(0,0,0,0.2)"></i>
<i style="left:186.3px;top:312px;width:83.9px;height:1px;background:rgb(0,0,0)"></i>
<i style="left:186.3px;top:313px;width:83.9px;height:1px;background:rgba(0,0,0,0.9)"></i>
<i style="left:272.2px;top:312px;width:636.85px;height:1px;background:rgba(0,0,0,0.2)"></i>
<i style="left:272.2px;top:313px;width:636.85px;height:1px;background:rgb(0,0,0)"></i>
<i style="left:918.95px;top:312px;width:151.2px;height:1px;background:rgba(0,0,0,0.2)"></i>
<i style="left:918.95px;top:313px;width:151.2px;height:1px;background:rgb(0,0,0)"></i>
<i style="left:186.3px;top:336px;width:83.9px;height:1px;background:rgba(0,0,0,0.3)"></i>
<i style="left:186.3px;top:337px;width:83.9px;height:1px;background:rgb(0,0,0)"></i>
<i style="left:186.3px;top:338px;width:83.9px;height:1px;background:rgba(0,0,0,0.7)"></i>
<i style="left:146.3px;top:337px;width:37.9px;height:1px;background:rgba(0,0,0,0.8)"></i>
<i style="left:146.3px;top:338px;width:37.9px;height:1px;background:rgba(0,0,0,0.7)"></i>
<i style="left:272.2px;top:337px;width:636.85px;height:1px;background:rgba(0,0,0,0.4)"></i>
<i style="left:272.2px;top:338px;width:636.85px;height:1px;background:rgba(0,0,0,0.8)"></i>
<i style="left:918.95px;top:337px;width:151.2px;height:1px;background:rgba(0,0,0,0.4)"></i>
<i style="left:918.95px;top:338px;width:151.2px;height:1px;background:rgba(0,0,0,0.8)"></i>
<i style="left:186.3px;top:357px;width:83.9px;height:1px;background:rgba(0,0,0,0.4)"></i>
<i style="left:186.3px;top:358px;width:83.9px;height:1px;background:rgba(0,0,0,0.9)"></i>
<i style="left:272.2px;top:357px;width:636.85px;height:1px;background:rgba(0,0,0,0.2)"></i>
<i style="left:272.2px;top:358px;width:636.85px;height:1px;background:rgb(0,0,0)"></i>
<i style="left:918.95px;top:357px;width:151.2px;height:1px;background:rgba(0,0,0,0.2)"></i>
<i style="left:918.95px;top:358px;width:151.2px;height:1px;background:rgb(0,0,0)"></i>
<i style="left:186.3px;top:379px;width:83.9px;height:1px;background:rgba(0,0,0,0.2)"></i>
<i style="left:186.3px;top:380px;width:83.9px;height:1px;background:rgb(0,0,0)"></i>
<i style="left:186.3px;top:381px;width:83.9px;height:1px;background:rgba(0,0,0,0.9)"></i>
<i style="left:272.2px;top:380px;width:636.85px;height:1px;background:rgba(0,0,0,0.2)"></i>
<i style="left:272.2px;top:381px;width:636.85px;height:1px;background:rgb(0,0,0)"></i>
<i style="left:918.95px;top:380px;width:151.2px;height:1px;background:rgba(0,0,0,0.2)"></i>
<i style="left:918.95px;top:381px;width:151.2px;height:1px;background:rgb(0,0,0)"></i>
<i style="left:3px;top:402px;width:269.2px;height:1px;background:rgba(0,0,0,0.2)"></i>
<i style="left:3px;top:403px;width:269.2px;height:1px;background:rgb(0,0,0)"></i>
<i style="left:3px;top:404px;width:269.2px;height:1px;background:rgb(0,0,0)"></i>
<i style="left:272.2px;top:403px;width:636.85px;height:1px;background:rgba(0,0,0,0.1)"></i>
<i style="left:272.2px;top:404px;width:636.85px;height:1px;background:rgb(0,0,0)"></i>
<i style="left:918.95px;top:403px;width:151.2px;height:1px;background:rgba(0,0,0,0.1)"></i>
<i style="left:918.95px;top:404px;width:151.2px;height:1px;background:rgb(0,0,0)"></i>
<i style="left:2px;top:93px;width:1px;height:312px;background:rgba(0,0,0,0.1)"></i>
<i style="left:3px;top:93px;width:1px;height:312px;background:rgb(0,0,0)"></i>
<i style="left:4px;top:93px;width:1px;height:312px;background:rgb(0,0,0)"></i>
<i style="left:143px;top:93px;width:1px;height:312px;background:rgba(0,0,0,0.1)"></i>
<i style="left:144px;top:93px;width:1px;height:312px;background:rgb(0,0,0)"></i>
<i style="left:145px;top:93px;width:1px;height:312px;background:rgb(0,0,0)"></i>
<i style="left:146px;top:93px;width:1px;height:312px;background:rgba(0,0,0,0.05)"></i>
<i style="left:183px;top:93px;width:1px;height:312px;background:rgba(0,0,0,0.05)"></i>
<i style="left:184px;top:93px;width:1px;height:312px;background:rgb(0,0,0)"></i>
<i style="left:185px;top:93px;width:1px;height:312px;background:rgb(0,0,0)"></i>
<i style="left:186px;top:93px;width:1px;height:312px;background:rgba(0,0,0,0.1)"></i>
<i style="left:270px;top:93px;width:1px;height:312px;background:rgb(0,0,0)"></i>
<i style="left:271px;top:93px;width:1px;height:312px;background:rgb(0,0,0)"></i>
<i style="left:272px;top:93px;width:1px;height:312px;background:rgba(0,0,0,0.2)"></i>
<i style="left:323px;top:94px;width:1px;height:311px;background:rgba(0,0,0,0.2)"></i>
<i style="left:324px;top:94px;width:1px;height:311px;background:rgb(0,0,0)"></i>
<i style="left:377px;top:94px;width:1px;height:311px;background:rgba(0,0,0,0.1)"></i>
<i style="left:378px;top:94px;width:1px;height:311px;background:rgb(0,0,0)"></i>
<i style="left:379px;top:94px;width:1px;height:311px;background:rgba(0,0,0,0.1)"></i>
<i style="left:431px;top:94px;width:1px;height:311px;background:rgba(0,0,0,0.1)"></i>
<i style="left:432px;top:94px;width:1px;height:311px;background:rgb(0,0,0)"></i>
<i style="left:433px;top:94px;width:1px;height:311px;background:rgba(0,0,0,0.1)"></i>
<i style="left:490px;top:94px;width:1px;height:311px;background:rgba(0,0,0,0.3)"></i>
<i style="left:491px;top:94px;width:1px;height:311px;background:rgba(0,0,0,0.9)"></i>
<i style="left:544px;top:94px;width:1px;height:311px;background:rgba(0,0,0,0.1)"></i>
<i style="left:545px;top:94px;width:1px;height:311px;background:rgb(0,0,0)"></i>
<i style="left:546px;top:94px;width:1px;height:311px;background:rgba(0,0,0,0.1)"></i>
<i style="left:598px;top:94px;width:1px;height:311px;background:rgba(0,0,0,0.3)"></i>
<i style="left:599px;top:94px;width:1px;height:311px;background:rgba(0,0,0,0.9)"></i>
<i style="left:647px;top:94px;width:1px;height:311px;background:rgba(0,0,0,0.2)"></i>
<i style="left:648px;top:94px;width:1px;height:311px;background:rgb(0,0,0)"></i>
<i style="left:696px;top:94px;width:1px;height:311px;background:rgba(0,0,0,0.3)"></i>
<i style="left:697px;top:94px;width:1px;height:311px;background:rgba(0,0,0,0.9)"></i>
<i style="left:745px;top:94px;width:1px;height:311px;background:rgba(0,0,0,0.1)"></i>
<i style="left:746px;top:94px;width:1px;height:311px;background:rgb(0,0,0)"></i>
<i style="left:747px;top:94px;width:1px;height:311px;background:rgba(0,0,0,0.1)"></i>
<i style="left:799px;top:94px;width:1px;height:311px;background:rgba(0,0,0,0.2)"></i>
<i style="left:800px;top:94px;width:1px;height:311px;background:rgb(0,0,0)"></i>
<i style="left:853px;top:94px;width:1px;height:311px;background:rgba(0,0,0,0.1)"></i>
<i style="left:854px;top:94px;width:1px;height:311px;background:rgb(0,0,0)"></i>
<i style="left:855px;top:94px;width:1px;height:311px;background:rgba(0,0,0,0.1)"></i>
<i style="left:966px;top:94px;width:1px;height:311px;background:rgba(0,0,0,0.3)"></i>
<i style="left:967px;top:94px;width:1px;height:311px;background:rgba(0,0,0,0.9)"></i>
<i style="left:1020px;top:94px;width:1px;height:311px;background:rgb(0,0,0)"></i>
<i style="left:1021px;top:94px;width:1px;height:311px;background:rgba(0,0,0,0.2)"></i>
<i style="left:907px;top:94px;width:1px;height:311px;background:rgba(0,0,0,0.15)"></i>
<i style="left:908px;top:94px;width:1px;height:311px;background:rgb(0,0,0)"></i>
<i style="left:909px;top:94px;width:1px;height:311px;background:rgba(0,0,0,0.05)"></i>
<i style="left:918px;top:94px;width:1px;height:311px;background:rgba(0,0,0,0.05)"></i>
<i style="left:919px;top:94px;width:1px;height:311px;background:rgb(0,0,0)"></i>
<i style="left:1068px;top:94px;width:1px;height:311px;background:rgba(0,0,0,0.05)"></i>
<i style="left:1069px;top:94px;width:1px;height:311px;background:rgb(0,0,0)"></i>
<i style="left:1070px;top:94px;width:1px;height:311px;background:rgba(0,0,0,0.15)"></i>
<i style="left:3px;top:412px;width:269.2px;height:1px;background:rgb(0,0,0)"></i>
<i style="left:3px;top:413px;width:269.2px;height:1px;background:rgba(0,0,0,0.9)"></i>
<i style="left:272.2px;top:412px;width:636.85px;height:1px;background:rgba(0,0,0,0.1)"></i>
<i style="left:272.2px;top:413px;width:636.85px;height:1px;background:rgb(0,0,0)"></i>
<i style="left:918.95px;top:412px;width:151.2px;height:1px;background:rgba(0,0,0,0.1)"></i>
<i style="left:918.95px;top:413px;width:151.2px;height:1px;background:rgb(0,0,0)"></i>
<i style="left:186.3px;top:433px;width:83.9px;height:1px;background:rgba(0,0,0,0.3)"></i>
<i style="left:186.3px;top:434px;width:83.9px;height:1px;background:rgb(0,0,0)"></i>
<i style="left:186.3px;top:435px;width:83.9px;height:1px;background:rgba(0,0,0,0.7)"></i>
<i style="left:146.3px;top:434px;width:37.9px;height:1px;background:rgba(0,0,0,0.8)"></i>
<i style="left:146.3px;top:435px;width:37.9px;height:1px;background:rgba(0,0,0,0.7)"></i>
<i style="left:272.2px;top:434px;width:636.85px;height:1px;background:rgba(0,0,0,0.4)"></i>
<i style="left:272.2px;top:435px;width:636.85px;height:1px;background:rgba(0,0,0,0.8)"></i>
<i style="left:918.95px;top:434px;width:151.2px;height:1px;background:rgba(0,0,0,0.4)"></i>
<i style="left:918.95px;top:435px;width:151.2px;height:1px;background:rgba(0,0,0,0.8)"></i>
<i style="left:186.3px;top:456px;width:83.9px;height:1px;background:rgba(0,0,0,0.3)"></i>
<i style="left:186.3px;top:457px;width:83.9px;height:1px;background:rgb(0,0,0)"></i>
<i style="left:146.3px;top:456px;width:37.9px;height:1px;background:rgba(0,0,0,0.3)"></i>
<i style="left:146.3px;top:457px;width:37.9px;height:1px;background:rgb(0,0,0)"></i>
<i style="left:272.2px;top:456px;width:636.85px;height:1px;background:rgba(0,0,0,0.1)"></i>
<i style="left:272.2px;top:457px;width:636.85px;height:1px;background:rgb(0,0,0)"></i>
<i style="left:272.2px;top:458px;width:636.85px;height:1px;background:rgba(0,0,0,0.1)"></i>
<i style="left:918.95px;top:456px;width:151.2px;height:1px;background:rgba(0,0,0,0.1)"></i>
<i style="left:918.95px;top:457px;width:151.2px;height:1px;background:rgb(0,0,0)"></i>
<i style="left:918.95px;top:458px;width:151.2px;height:1px;background:rgba(0,0,0,0.1)"></i>
<i style="left:186.3px;top:477px;width:83.9px;height:1px;background:rgba(0,0,0,0.3)"></i>
<i style="left:186.3px;top:478px;width:83.9px;height:1px;background:rgb(0,0,0)"></i>
<i style="left:186.3px;top:479px;width:83.9px;height:1px;background:rgba(0,0,0,0.7)"></i>
<i style="left:272.2px;top:478px;width:636.85px;height:1px;background:rgba(0,0,0,0.4)"></i>
<i style="left:272.2px;top:479px;width:636.85px;height:1px;background:rgba(0,0,0,0.8)"></i>
<i style="left:918.95px;top:478px;width:151.2px;height:1px;background:rgba(0,0,0,0.4)"></i>
<i style="left:918.95px;top:479px;width:151.2px;height:1px;background:rgba(0,0,0,0.8)"></i>
<i style="left:3px;top:498px;width:269.2px;height:1px;background:rgba(0,0,0,0.2)"></i>
<i style="left:3px;top:499px;width:269.2px;height:1px;background:rgb(0,0,0)"></i>
<i style="left:3px;top:500px;width:269.2px;height:1px;background:rgb(0,0,0)"></i>
<i style="left:272.2px;top:499px;width:636.85px;height:1px;background:rgba(0,0,0,0.1)"></i>
<i style="left:272.2px;top:500px;width:636.85px;height:1px;background:rgb(0,0,0)"></i>
<i style="left:918.95px;top:499px;width:151.2px;height:1px;background:rgba(0,0,0,0.1)"></i>
<i style="left:918.95px;top:500px;width:151.2px;height:1px;background:rgb(0,0,0)"></i>
<i style="left:2px;top:412px;width:1px;height:89px;background:rgba(0,0,0,0.1)"></i>
<i style="left:3px;top:412px;width:1px;height:89px;background:rgb(0,0,0)"></i>
<i style="left:4px;top:412px;width:1px;height:89px;background:rgb(0,0,0)"></i>
<i style="left:143px;top:412px;width:1px;height:89px;background:rgba(0,0,0,0.1)"></i>
<i style="left:144px;top:412px;width:1px;height:89px;background:rgb(0,0,0)"></i>
<i style="left:145px;top:412px;width:1px;height:89px;background:rgb(0,0,0)"></i>
<i style="left:146px;top:412px;width:1px;height:89px;background:rgba(0,0,0,0.05)"></i>
<i style="left:183px;top:412px;width:1px;height:89px;background:rgba(0,0,0,0.05)"></i>
<i style="left:184px;top:412px;width:1px;height:89px;background:rgb(0,0,0)"></i>
<i style="left:185px;top:412px;width:1px;height:89px;background:rgb(0,0,0)"></i>
<i style="left:186px;top:412px;width:1px;height:89px;background:rgba(0,0,0,0.1)"></i>
<i style="left:270px;top:412px;width:1px;height:89px;background:rgb(0,0,0)"></i>
<i style="left:271px;top:412px;width:1px;height:89px;background:rgb(0,0,0)"></i>
<i style="left:272px;top:412px;width:1px;height:89px;background:rgba(0,0,0,0.2)"></i>
<i style="left:323px;top:413px;width:1px;height:88px;background:rgba(0,0,0,0.2)"></i>
<i style="left:324px;top:413px;width:1px;height:88px;background:rgb(0,0,0)"></i>
<i style="left:377px;top:413px;width:1px;height:88px;background:rgba(0,0,0,0.1)"></i>
<i style="left:378px;top:413px;width:1px;height:88px;background:rgb(0,0,0)"></i>
<i style="left:379px;top:413px;width:1px;height:88px;background:rgba(0,0,0,0.1)"></i>
<i style="left:431px;top:413px;width:1px;height:88px;background:rgba(0,0,0,0.1)"></i>
<i style="left:432px;top:413px;width:1px;height:88px;background:rgb(0,0,0)"></i>
<i style="left:433px;top:413px;width:1px;height:88px;background:rgba(0,0,0,0.1)"></i>
<i style="left:490px;top:413px;width:1px;height:88px;background:rgba(0,0,0,0.3)"></i>
<i style="left:491px;top:413px;width:1px;height:88px;background:rgba(0,0,0,0.9)"></i>
<i style="left:544px;top:413px;width:1px;height:88px;background:rgba(0,0,0,0.1)"></i>
<i style="left:545px;top:413px;width:1px;height:88px;background:rgb(0,0,0)"></i>
<i style="left:546px;top:413px;width:1px;height:88px;background:rgba(0,0,0,0.1)"></i>
<i style="left:598px;top:413px;width:1px;height:88px;background:rgba(0,0,0,0.3)"></i>
<i style="left:599px;top:413px;width:1px;height:88px;background:rgba(0,0,0,0.9)"></i>
<i style="left:647px;top:413px;width:1px;height:88px;background:rgba(0,0,0,0.2)"></i>
<i style="left:648px;top:413px;width:1px;height:88px;background:rgb(0,0,0)"></i>
<i style="left:696px;top:413px;width:1px;height:88px;background:rgba(0,0,0,0.3)"></i>
<i style="left:697px;top:413px;width:1px;height:88px;background:rgba(0,0,0,0.9)"></i>
<i style="left:745px;top:413px;width:1px;height:88px;background:rgba(0,0,0,0.1)"></i>
<i style="left:746px;top:413px;width:1px;height:88px;background:rgb(0,0,0)"></i>
<i style="left:747px;top:413px;width:1px;height:88px;background:rgba(0,0,0,0.1)"></i>
<i style="left:799px;top:413px;width:1px;height:88px;background:rgba(0,0,0,0.2)"></i>
<i style="left:800px;top:413px;width:1px;height:88px;background:rgb(0,0,0)"></i>
<i style="left:853px;top:413px;width:1px;height:88px;background:rgba(0,0,0,0.1)"></i>
<i style="left:854px;top:413px;width:1px;height:88px;background:rgb(0,0,0)"></i>
<i style="left:855px;top:413px;width:1px;height:88px;background:rgba(0,0,0,0.1)"></i>
<i style="left:966px;top:413px;width:1px;height:88px;background:rgba(0,0,0,0.3)"></i>
<i style="left:967px;top:413px;width:1px;height:88px;background:rgba(0,0,0,0.9)"></i>
<i style="left:1020px;top:413px;width:1px;height:88px;background:rgb(0,0,0)"></i>
<i style="left:1021px;top:413px;width:1px;height:88px;background:rgba(0,0,0,0.2)"></i>
<i style="left:907px;top:413px;width:1px;height:88px;background:rgba(0,0,0,0.15)"></i>
<i style="left:908px;top:413px;width:1px;height:88px;background:rgb(0,0,0)"></i>
<i style="left:909px;top:413px;width:1px;height:88px;background:rgba(0,0,0,0.05)"></i>
<i style="left:918px;top:413px;width:1px;height:88px;background:rgba(0,0,0,0.05)"></i>
<i style="left:919px;top:413px;width:1px;height:88px;background:rgb(0,0,0)"></i>
<i style="left:1068px;top:413px;width:1px;height:88px;background:rgba(0,0,0,0.05)"></i>
<i style="left:1069px;top:413px;width:1px;height:88px;background:rgb(0,0,0)"></i>
<i style="left:1070px;top:413px;width:1px;height:88px;background:rgba(0,0,0,0.15)"></i>
<i style="left:3px;top:507px;width:269.2px;height:1px;background:rgb(0,0,0)"></i>
<i style="left:3px;top:508px;width:269.2px;height:1px;background:rgba(0,0,0,0.9)"></i>
<i style="left:272.2px;top:507px;width:636.85px;height:1px;background:rgba(0,0,0,0.1)"></i>
<i style="left:272.2px;top:508px;width:636.85px;height:1px;background:rgb(0,0,0)"></i>
<i style="left:918.95px;top:507px;width:151.2px;height:1px;background:rgba(0,0,0,0.1)"></i>
<i style="left:918.95px;top:508px;width:151.2px;height:1px;background:rgb(0,0,0)"></i>
<i style="left:3px;top:535px;width:269.2px;height:1px;background:rgba(0,0,0,0.2)"></i>
<i style="left:3px;top:536px;width:269.2px;height:1px;background:rgb(0,0,0)"></i>
<i style="left:3px;top:537px;width:269.2px;height:1px;background:rgb(0,0,0)"></i>
<i style="left:272.2px;top:536px;width:636.85px;height:1px;background:rgba(0,0,0,0.1)"></i>
<i style="left:272.2px;top:537px;width:636.85px;height:1px;background:rgb(0,0,0)"></i>
<i style="left:918.95px;top:536px;width:151.2px;height:1px;background:rgba(0,0,0,0.1)"></i>
<i style="left:918.95px;top:537px;width:151.2px;height:1px;background:rgb(0,0,0)"></i>
<i style="left:2px;top:507px;width:1px;height:31px;background:rgba(0,0,0,0.1)"></i>
<i style="left:3px;top:507px;width:1px;height:31px;background:rgb(0,0,0)"></i>
<i style="left:4px;top:507px;width:1px;height:31px;background:rgb(0,0,0)"></i>
<i style="left:143px;top:507px;width:1px;height:31px;background:rgba(0,0,0,0.1)"></i>
<i style="left:144px;top:507px;width:1px;height:31px;background:rgb(0,0,0)"></i>
<i style="left:145px;top:507px;width:1px;height:31px;background:rgb(0,0,0)"></i>
<i style="left:146px;top:507px;width:1px;height:31px;background:rgba(0,0,0,0.05)"></i>
<i style="left:183px;top:507px;width:1px;height:31px;background:rgba(0,0,0,0.05)"></i>
<i style="left:184px;top:507px;width:1px;height:31px;background:rgb(0,0,0)"></i>
<i style="left:185px;top:507px;width:1px;height:31px;background:rgb(0,0,0)"></i>
<i style="left:186px;top:507px;width:1px;height:31px;background:rgba(0,0,0,0.1)"></i>
<i style="left:270px;top:507px;width:1px;height:31px;background:rgb(0,0,0)"></i>
<i style="left:271px;top:507px;width:1px;height:31px;background:rgb(0,0,0)"></i>
<i style="left:272px;top:507px;width:1px;height:31px;background:rgba(0,0,0,0.2)"></i>
<i style="left:323px;top:508px;width:1px;height:30px;background:rgba(0,0,0,0.2)"></i>
<i style="left:324px;top:508px;width:1px;height:30px;background:rgb(0,0,0)"></i>
<i style="left:377px;top:508px;width:1px;height:30px;background:rgba(0,0,0,0.1)"></i>
<i style="left:378px;top:508px;width:1px;height:30px;background:rgb(0,0,0)"></i>
<i style="left:379px;top:508px;width:1px;height:30px;background:rgba(0,0,0,0.1)"></i>
<i style="left:431px;top:508px;width:1px;height:30px;background:rgba(0,0,0,0.1)"></i>
<i style="left:432px;top:508px;width:1px;height:30px;background:rgb(0,0,0)"></i>
<i style="left:433px;top:508px;width:1px;height:30px;background:rgba(0,0,0,0.1)"></i>
<i style="left:490px;top:508px;width:1px;height:30px;background:rgba(0,0,0,0.3)"></i>
<i style="left:491px;top:508px;width:1px;height:30px;background:rgba(0,0,0,0.9)"></i>
<i style="left:544px;top:508px;width:1px;height:30px;background:rgba(0,0,0,0.1)"></i>
<i style="left:545px;top:508px;width:1px;height:30px;background:rgb(0,0,0)"></i>
<i style="left:546px;top:508px;width:1px;height:30px;background:rgba(0,0,0,0.1)"></i>
<i style="left:598px;top:508px;width:1px;height:30px;background:rgba(0,0,0,0.3)"></i>
<i style="left:599px;top:508px;width:1px;height:30px;background:rgba(0,0,0,0.9)"></i>
<i style="left:647px;top:508px;width:1px;height:30px;background:rgba(0,0,0,0.2)"></i>
<i style="left:648px;top:508px;width:1px;height:30px;background:rgb(0,0,0)"></i>
<i style="left:696px;top:508px;width:1px;height:30px;background:rgba(0,0,0,0.3)"></i>
<i style="left:697px;top:508px;width:1px;height:30px;background:rgba(0,0,0,0.9)"></i>
<i style="left:745px;top:508px;width:1px;height:30px;background:rgba(0,0,0,0.1)"></i>
<i style="left:746px;top:508px;width:1px;height:30px;background:rgb(0,0,0)"></i>
<i style="left:747px;top:508px;width:1px;height:30px;background:rgba(0,0,0,0.1)"></i>
<i style="left:799px;top:508px;width:1px;height:30px;background:rgba(0,0,0,0.2)"></i>
<i style="left:800px;top:508px;width:1px;height:30px;background:rgb(0,0,0)"></i>
<i style="left:853px;top:508px;width:1px;height:30px;background:rgba(0,0,0,0.1)"></i>
<i style="left:854px;top:508px;width:1px;height:30px;background:rgb(0,0,0)"></i>
<i style="left:855px;top:508px;width:1px;height:30px;background:rgba(0,0,0,0.1)"></i>
<i style="left:966px;top:508px;width:1px;height:30px;background:rgba(0,0,0,0.3)"></i>
<i style="left:967px;top:508px;width:1px;height:30px;background:rgba(0,0,0,0.9)"></i>
<i style="left:1020px;top:508px;width:1px;height:30px;background:rgb(0,0,0)"></i>
<i style="left:1021px;top:508px;width:1px;height:30px;background:rgba(0,0,0,0.2)"></i>
<i style="left:907px;top:508px;width:1px;height:30px;background:rgba(0,0,0,0.15)"></i>
<i style="left:908px;top:508px;width:1px;height:30px;background:rgb(0,0,0)"></i>
<i style="left:909px;top:508px;width:1px;height:30px;background:rgba(0,0,0,0.05)"></i>
<i style="left:918px;top:508px;width:1px;height:30px;background:rgba(0,0,0,0.05)"></i>
<i style="left:919px;top:508px;width:1px;height:30px;background:rgb(0,0,0)"></i>
<i style="left:1068px;top:508px;width:1px;height:30px;background:rgba(0,0,0,0.05)"></i>
<i style="left:1069px;top:508px;width:1px;height:30px;background:rgb(0,0,0)"></i>
<i style="left:1070px;top:508px;width:1px;height:30px;background:rgba(0,0,0,0.15)"></i>
<i style="left:3px;top:544px;width:269.2px;height:1px;background:rgb(0,0,0)"></i>
<i style="left:3px;top:545px;width:269.2px;height:1px;background:rgb(0,0,0)"></i>
<i style="left:272.2px;top:545px;width:636.85px;height:1px;background:rgb(0,0,0)"></i>
<i style="left:272.2px;top:546px;width:636.85px;height:1px;background:rgba(0,0,0,0.1)"></i>
<i style="left:918.95px;top:545px;width:151.2px;height:1px;background:rgb(0,0,0)"></i>
<i style="left:918.95px;top:546px;width:151.2px;height:1px;background:rgba(0,0,0,0.1)"></i>
<i style="left:186.3px;top:564px;width:83.9px;height:1px;background:rgba(0,0,0,0.4)"></i>
<i style="left:186.3px;top:565px;width:83.9px;height:1px;background:rgba(0,0,0,0.9)"></i>
<i style="left:272.2px;top:564px;width:636.85px;height:1px;background:rgba(0,0,0,0.2)"></i>
<i style="left:272.2px;top:565px;width:636.85px;height:1px;background:rgb(0,0,0)"></i>
<i style="left:918.95px;top:564px;width:151.2px;height:1px;background:rgba(0,0,0,0.2)"></i>
<i style="left:918.95px;top:565px;width:151.2px;height:1px;background:rgb(0,0,0)"></i>
<i style="left:186.3px;top:590px;width:83.9px;height:1px;background:rgba(0,0,0,0.5)"></i>
<i style="left:186.3px;top:591px;width:83.9px;height:1px;background:rgba(0,0,0,0.8)"></i>
<i style="left:272.2px;top:590px;width:636.85px;height:1px;background:rgba(0,0,0,0.3)"></i>
<i style="left:272.2px;top:591px;width:636.85px;height:1px;background:rgba(0,0,0,0.9)"></i>
<i style="left:918.95px;top:590px;width:151.2px;height:1px;background:rgba(0,0,0,0.3)"></i>
<i style="left:918.95px;top:591px;width:151.2px;height:1px;background:rgba(0,0,0,0.9)"></i>
<i style="left:186.3px;top:612px;width:83.9px;height:1px;background:rgb(0,0,0)"></i>
<i style="left:186.3px;top:613px;width:83.9px;height:1px;background:rgb(0,0,0)"></i>
<i style="left:186.3px;top:614px;width:83.9px;height:1px;background:rgba(0,0,0,0.1)"></i>
<i style="left:272.2px;top:613px;width:636.85px;height:1px;background:rgb(0,0,0)"></i>
<i style="left:272.2px;top:614px;width:636.85px;height:1px;background:rgba(0,0,0,0.2)"></i>
<i style="left:918.95px;top:613px;width:151.2px;height:1px;background:rgb(0,0,0)"></i>
<i style="left:918.95px;top:614px;width:151.2px;height:1px;background:rgba(0,0,0,0.2)"></i>
<i style="left:3px;top:633px;width:269.2px;height:1px;background:rgba(0,0,0,0.1)"></i>
<i style="left:3px;top:634px;width:269.2px;height:1px;background:rgb(0,0,0)"></i>
<i style="left:3px;top:635px;width:269.2px;height:1px;background:rgb(0,0,0)"></i>
<i style="left:3px;top:636px;width:269.2px;height:1px;background:rgba(0,0,0,0.1)"></i>
<i style="left:272.2px;top:635px;width:636.85px;height:1px;background:rgb(0,0,0)"></i>
<i style="left:272.2px;top:636px;width:636.85px;height:1px;background:rgba(0,0,0,0.1)"></i>
<i style="left:918.95px;top:635px;width:151.2px;height:1px;background:rgb(0,0,0)"></i>
<i style="left:918.95px;top:636px;width:151.2px;height:1px;background:rgba(0,0,0,0.1)"></i>
<i style="left:2px;top:544px;width:1px;height:92px;background:rgba(0,0,0,0.1)"></i>
<i style="left:3px;top:544px;width:1px;height:92px;background:rgb(0,0,0)"></i>
<i style="left:4px;top:544px;width:1px;height:92px;background:rgb(0,0,0)"></i>
<i style="left:143px;top:544px;width:1px;height:92px;background:rgba(0,0,0,0.1)"></i>
<i style="left:144px;top:544px;width:1px;height:92px;background:rgb(0,0,0)"></i>
<i style="left:145px;top:544px;width:1px;height:92px;background:rgb(0,0,0)"></i>
<i style="left:146px;top:544px;width:1px;height:92px;background:rgba(0,0,0,0.05)"></i>
<i style="left:183px;top:544px;width:1px;height:92px;background:rgba(0,0,0,0.05)"></i>
<i style="left:184px;top:544px;width:1px;height:92px;background:rgb(0,0,0)"></i>
<i style="left:185px;top:544px;width:1px;height:92px;background:rgb(0,0,0)"></i>
<i style="left:186px;top:544px;width:1px;height:92px;background:rgba(0,0,0,0.1)"></i>
<i style="left:270px;top:544px;width:1px;height:92px;background:rgb(0,0,0)"></i>
<i style="left:271px;top:544px;width:1px;height:92px;background:rgb(0,0,0)"></i>
<i style="left:272px;top:544px;width:1px;height:92px;background:rgba(0,0,0,0.2)"></i>
<i style="left:323px;top:545px;width:1px;height:91px;background:rgba(0,0,0,0.2)"></i>
<i style="left:324px;top:545px;width:1px;height:91px;background:rgb(0,0,0)"></i>
<i style="left:377px;top:545px;width:1px;height:91px;background:rgba(0,0,0,0.1)"></i>
<i style="left:378px;top:545px;width:1px;height:91px;background:rgb(0,0,0)"></i>
<i style="left:379px;top:545px;width:1px;height:91px;background:rgba(0,0,0,0.1)"></i>
<i style="left:431px;top:545px;width:1px;height:91px;background:rgba(0,0,0,0.1)"></i>
<i style="left:432px;top:545px;width:1px;height:91px;background:rgb(0,0,0)"></i>
<i style="left:433px;top:545px;width:1px;height:91px;background:rgba(0,0,0,0.1)"></i>
<i style="left:490px;top:545px;width:1px;height:91px;background:rgba(0,0,0,0.3)"></i>
<i style="left:491px;top:545px;width:1px;height:91px;background:rgba(0,0,0,0.9)"></i>
<i style="left:544px;top:545px;width:1px;height:91px;background:rgba(0,0,0,0.1)"></i>
<i style="left:545px;top:545px;width:1px;height:91px;background:rgb(0,0,0)"></i>
<i style="left:546px;top:545px;width:1px;height:91px;background:rgba(0,0,0,0.1)"></i>
<i style="left:598px;top:545px;width:1px;height:91px;background:rgba(0,0,0,0.3)"></i>
<i style="left:599px;top:545px;width:1px;height:91px;background:rgba(0,0,0,0.9)"></i>
<i style="left:647px;top:545px;width:1px;height:91px;background:rgba(0,0,0,0.2)"></i>
<i style="left:648px;top:545px;width:1px;height:91px;background:rgb(0,0,0)"></i>
<i style="left:696px;top:545px;width:1px;height:91px;background:rgba(0,0,0,0.3)"></i>
<i style="left:697px;top:545px;width:1px;height:91px;background:rgba(0,0,0,0.9)"></i>
<i style="left:745px;top:545px;width:1px;height:91px;background:rgba(0,0,0,0.1)"></i>
<i style="left:746px;top:545px;width:1px;height:91px;background:rgb(0,0,0)"></i>
<i style="left:747px;top:545px;width:1px;height:91px;background:rgba(0,0,0,0.1)"></i>
<i style="left:799px;top:545px;width:1px;height:91px;background:rgba(0,0,0,0.2)"></i>
<i style="left:800px;top:545px;width:1px;height:91px;background:rgb(0,0,0)"></i>
<i style="left:853px;top:545px;width:1px;height:91px;background:rgba(0,0,0,0.1)"></i>
<i style="left:854px;top:545px;width:1px;height:91px;background:rgb(0,0,0)"></i>
<i style="left:855px;top:545px;width:1px;height:91px;background:rgba(0,0,0,0.1)"></i>
<i style="left:966px;top:545px;width:1px;height:91px;background:rgba(0,0,0,0.3)"></i>
<i style="left:967px;top:545px;width:1px;height:91px;background:rgba(0,0,0,0.9)"></i>
<i style="left:1020px;top:545px;width:1px;height:91px;background:rgb(0,0,0)"></i>
<i style="left:1021px;top:545px;width:1px;height:91px;background:rgba(0,0,0,0.2)"></i>
<i style="left:907px;top:545px;width:1px;height:91px;background:rgba(0,0,0,0.15)"></i>
<i style="left:908px;top:545px;width:1px;height:91px;background:rgb(0,0,0)"></i>
<i style="left:909px;top:545px;width:1px;height:91px;background:rgba(0,0,0,0.05)"></i>
<i style="left:918px;top:545px;width:1px;height:91px;background:rgba(0,0,0,0.05)"></i>
<i style="left:919px;top:545px;width:1px;height:91px;background:rgb(0,0,0)"></i>
<i style="left:1068px;top:545px;width:1px;height:91px;background:rgba(0,0,0,0.05)"></i>
<i style="left:1069px;top:545px;width:1px;height:91px;background:rgb(0,0,0)"></i>
<i style="left:1070px;top:545px;width:1px;height:91px;background:rgba(0,0,0,0.15)"></i>
<i style="left:3px;top:642px;width:269.2px;height:1px;background:rgba(0,0,0,0.9)"></i>
<i style="left:3px;top:643px;width:269.2px;height:1px;background:rgb(0,0,0)"></i>
<i style="left:3px;top:644px;width:269.2px;height:1px;background:rgba(0,0,0,0.1)"></i>
<i style="left:272.2px;top:643px;width:636.85px;height:1px;background:rgba(0,0,0,0.9)"></i>
<i style="left:272.2px;top:644px;width:636.85px;height:1px;background:rgba(0,0,0,0.2)"></i>
<i style="left:918.95px;top:643px;width:151.2px;height:1px;background:rgba(0,0,0,0.9)"></i>
<i style="left:918.95px;top:644px;width:151.2px;height:1px;background:rgba(0,0,0,0.2)"></i>
<i style="left:3px;top:670px;width:269.2px;height:1px;background:rgba(0,0,0,0.2)"></i>
<i style="left:3px;top:671px;width:269.2px;height:1px;background:rgb(0,0,0)"></i>
<i style="left:3px;top:672px;width:269.2px;height:1px;background:rgb(0,0,0)"></i>
<i style="left:272.2px;top:671px;width:636.85px;height:1px;background:rgba(0,0,0,0.1)"></i>
<i style="left:272.2px;top:672px;width:636.85px;height:1px;background:rgb(0,0,0)"></i>
<i style="left:918.95px;top:671px;width:151.2px;height:1px;background:rgba(0,0,0,0.1)"></i>
<i style="left:918.95px;top:672px;width:151.2px;height:1px;background:rgb(0,0,0)"></i>
<i style="left:2px;top:643px;width:1px;height:30px;background:rgba(0,0,0,0.1)"></i>
<i style="left:3px;top:643px;width:1px;height:30px;background:rgb(0,0,0)"></i>
<i style="left:4px;top:643px;width:1px;height:30px;background:rgb(0,0,0)"></i>
<i style="left:143px;top:643px;width:1px;height:30px;background:rgba(0,0,0,0.1)"></i>
<i style="left:144px;top:643px;width:1px;height:30px;background:rgb(0,0,0)"></i>
<i style="left:145px;top:643px;width:1px;height:30px;background:rgb(0,0,0)"></i>
<i style="left:146px;top:643px;width:1px;height:30px;background:rgba(0,0,0,0.05)"></i>
<i style="left:183px;top:643px;width:1px;height:30px;background:rgba(0,0,0,0.05)"></i>
<i style="left:184px;top:643px;width:1px;height:30px;background:rgb(0,0,0)"></i>
<i style="left:185px;top:643px;width:1px;height:30px;background:rgb(0,0,0)"></i>
<i style="left:186px;top:643px;width:1px;height:30px;background:rgba(0,0,0,0.1)"></i>
<i style="left:270px;top:643px;width:1px;height:30px;background:rgb(0,0,0)"></i>
<i style="left:271px;top:643px;width:1px;height:30px;background:rgb(0,0,0)"></i>
<i style="left:272px;top:643px;width:1px;height:30px;background:rgba(0,0,0,0.2)"></i>
<i style="left:323px;top:644px;width:1px;height:29px;background:rgba(0,0,0,0.2)"></i>
<i style="left:324px;top:644px;width:1px;height:29px;background:rgb(0,0,0)"></i>
<i style="left:377px;top:644px;width:1px;height:29px;background:rgba(0,0,0,0.1)"></i>
<i style="left:378px;top:644px;width:1px;height:29px;background:rgb(0,0,0)"></i>
<i style="left:379px;top:644px;width:1px;height:29px;background:rgba(0,0,0,0.1)"></i>
<i style="left:431px;top:644px;width:1px;height:29px;background:rgba(0,0,0,0.1)"></i>
<i style="left:432px;top:644px;width:1px;height:29px;background:rgb(0,0,0)"></i>
<i style="left:433px;top:644px;width:1px;height:29px;background:rgba(0,0,0,0.1)"></i>
<i style="left:490px;top:644px;width:1px;height:29px;background:rgba(0,0,0,0.3)"></i>
<i style="left:491px;top:644px;width:1px;height:29px;background:rgba(0,0,0,0.9)"></i>
<i style="left:544px;top:644px;width:1px;height:29px;background:rgba(0,0,0,0.1)"></i>
<i style="left:545px;top:644px;width:1px;height:29px;background:rgb(0,0,0)"></i>
<i style="left:546px;top:644px;width:1px;height:29px;background:rgba(0,0,0,0.1)"></i>
<i style="left:598px;top:644px;width:1px;height:29px;background:rgba(0,0,0,0.3)"></i>
<i style="left:599px;top:644px;width:1px;height:29px;background:rgba(0,0,0,0.9)"></i>
<i style="left:647px;top:644px;width:1px;height:29px;background:rgba(0,0,0,0.2)"></i>
<i style="left:648px;top:644px;width:1px;height:29px;background:rgb(0,0,0)"></i>
<i style="left:696px;top:644px;width:1px;height:29px;background:rgba(0,0,0,0.3)"></i>
<i style="left:697px;top:644px;width:1px;height:29px;background:rgba(0,0,0,0.9)"></i>
<i style="left:745px;top:644px;width:1px;height:29px;background:rgba(0,0,0,0.1)"></i>
<i style="left:746px;top:644px;width:1px;height:29px;background:rgb(0,0,0)"></i>
<i style="left:747px;top:644px;width:1px;height:29px;background:rgba(0,0,0,0.1)"></i>
<i style="left:799px;top:644px;width:1px;height:29px;background:rgba(0,0,0,0.2)"></i>
<i style="left:800px;top:644px;width:1px;height:29px;background:rgb(0,0,0)"></i>
<i style="left:853px;top:644px;width:1px;height:29px;background:rgba(0,0,0,0.1)"></i>
<i style="left:854px;top:644px;width:1px;height:29px;background:rgb(0,0,0)"></i>
<i style="left:855px;top:644px;width:1px;height:29px;background:rgba(0,0,0,0.1)"></i>
<i style="left:966px;top:644px;width:1px;height:29px;background:rgba(0,0,0,0.3)"></i>
<i style="left:967px;top:644px;width:1px;height:29px;background:rgba(0,0,0,0.9)"></i>
<i style="left:1020px;top:644px;width:1px;height:29px;background:rgb(0,0,0)"></i>
<i style="left:1021px;top:644px;width:1px;height:29px;background:rgba(0,0,0,0.2)"></i>
<i style="left:907px;top:644px;width:1px;height:29px;background:rgba(0,0,0,0.15)"></i>
<i style="left:908px;top:644px;width:1px;height:29px;background:rgb(0,0,0)"></i>
<i style="left:909px;top:644px;width:1px;height:29px;background:rgba(0,0,0,0.05)"></i>
<i style="left:918px;top:644px;width:1px;height:29px;background:rgba(0,0,0,0.05)"></i>
<i style="left:919px;top:644px;width:1px;height:29px;background:rgb(0,0,0)"></i>
<i style="left:1068px;top:644px;width:1px;height:29px;background:rgba(0,0,0,0.05)"></i>
<i style="left:1069px;top:644px;width:1px;height:29px;background:rgb(0,0,0)"></i>
<i style="left:1070px;top:644px;width:1px;height:29px;background:rgba(0,0,0,0.15)"></i>
<i style="left:3px;top:681px;width:269.2px;height:1px;background:rgba(0,0,0,0.1)"></i>
<i style="left:3px;top:682px;width:269.2px;height:1px;background:rgb(0,0,0)"></i>
<i style="left:3px;top:683px;width:269.2px;height:1px;background:rgba(0,0,0,0.9)"></i>
<i style="left:272.2px;top:682px;width:636.85px;height:1px;background:rgba(0,0,0,0.1)"></i>
<i style="left:272.2px;top:683px;width:636.85px;height:1px;background:rgb(0,0,0)"></i>
<i style="left:918.95px;top:682px;width:151.2px;height:1px;background:rgba(0,0,0,0.1)"></i>
<i style="left:918.95px;top:683px;width:151.2px;height:1px;background:rgb(0,0,0)"></i>
<i style="left:3px;top:711px;width:269.2px;height:1px;background:rgba(0,0,0,0.4)"></i>
<i style="left:3px;top:712px;width:269.2px;height:1px;background:rgb(0,0,0)"></i>
<i style="left:3px;top:713px;width:269.2px;height:1px;background:rgba(0,0,0,0.8)"></i>
<i style="left:272.2px;top:712px;width:636.85px;height:1px;background:rgba(0,0,0,0.3)"></i>
<i style="left:272.2px;top:713px;width:636.85px;height:1px;background:rgba(0,0,0,0.8)"></i>
<i style="left:918.95px;top:712px;width:151.2px;height:1px;background:rgba(0,0,0,0.3)"></i>
<i style="left:918.95px;top:713px;width:151.2px;height:1px;background:rgba(0,0,0,0.8)"></i>
<i style="left:2px;top:682px;width:1px;height:31px;background:rgba(0,0,0,0.1)"></i>
<i style="left:3px;top:682px;width:1px;height:31px;background:rgb(0,0,0)"></i>
<i style="left:4px;top:682px;width:1px;height:31px;background:rgb(0,0,0)"></i>
<i style="left:143px;top:682px;width:1px;height:31px;background:rgba(0,0,0,0.1)"></i>
<i style="left:144px;top:682px;width:1px;height:31px;background:rgb(0,0,0)"></i>
<i style="left:145px;top:682px;width:1px;height:31px;background:rgb(0,0,0)"></i>
<i style="left:146px;top:682px;width:1px;height:31px;background:rgba(0,0,0,0.05)"></i>
<i style="left:183px;top:682px;width:1px;height:31px;background:rgba(0,0,0,0.05)"></i>
<i style="left:184px;top:682px;width:1px;height:31px;background:rgb(0,0,0)"></i>
<i style="left:185px;top:682px;width:1px;height:31px;background:rgb(0,0,0)"></i>
<i style="left:186px;top:682px;width:1px;height:31px;background:rgba(0,0,0,0.1)"></i>
<i style="left:270px;top:682px;width:1px;height:31px;background:rgb(0,0,0)"></i>
<i style="left:271px;top:682px;width:1px;height:31px;background:rgb(0,0,0)"></i>
<i style="left:272px;top:682px;width:1px;height:31px;background:rgba(0,0,0,0.2)"></i>
<i style="left:323px;top:683px;width:1px;height:30px;background:rgba(0,0,0,0.2)"></i>
<i style="left:324px;top:683px;width:1px;height:30px;background:rgb(0,0,0)"></i>
<i style="left:377px;top:683px;width:1px;height:30px;background:rgba(0,0,0,0.1)"></i>
<i style="left:378px;top:683px;width:1px;height:30px;background:rgb(0,0,0)"></i>
<i style="left:379px;top:683px;width:1px;height:30px;background:rgba(0,0,0,0.1)"></i>
<i style="left:431px;top:683px;width:1px;height:30px;background:rgba(0,0,0,0.1)"></i>
<i style="left:432px;top:683px;width:1px;height:30px;background:rgb(0,0,0)"></i>
<i style="left:433px;top:683px;width:1px;height:30px;background:rgba(0,0,0,0.1)"></i>
<i style="left:490px;top:683px;width:1px;height:30px;background:rgba(0,0,0,0.3)"></i>
<i style="left:491px;top:683px;width:1px;height:30px;background:rgba(0,0,0,0.9)"></i>
<i style="left:544px;top:683px;width:1px;height:30px;background:rgba(0,0,0,0.1)"></i>
<i style="left:545px;top:683px;width:1px;height:30px;background:rgb(0,0,0)"></i>
<i style="left:546px;top:683px;width:1px;height:30px;background:rgba(0,0,0,0.1)"></i>
<i style="left:598px;top:683px;width:1px;height:30px;background:rgba(0,0,0,0.3)"></i>
<i style="left:599px;top:683px;width:1px;height:30px;background:rgba(0,0,0,0.9)"></i>
<i style="left:647px;top:683px;width:1px;height:30px;background:rgba(0,0,0,0.2)"></i>
<i style="left:648px;top:683px;width:1px;height:30px;background:rgb(0,0,0)"></i>
<i style="left:696px;top:683px;width:1px;height:30px;background:rgba(0,0,0,0.3)"></i>
<i style="left:697px;top:683px;width:1px;height:30px;background:rgba(0,0,0,0.9)"></i>
<i style="left:745px;top:683px;width:1px;height:30px;background:rgba(0,0,0,0.1)"></i>
<i style="left:746px;top:683px;width:1px;height:30px;background:rgb(0,0,0)"></i>
<i style="left:747px;top:683px;width:1px;height:30px;background:rgba(0,0,0,0.1)"></i>
<i style="left:799px;top:683px;width:1px;height:30px;background:rgba(0,0,0,0.2)"></i>
<i style="left:800px;top:683px;width:1px;height:30px;background:rgb(0,0,0)"></i>
<i style="left:853px;top:683px;width:1px;height:30px;background:rgba(0,0,0,0.1)"></i>
<i style="left:854px;top:683px;width:1px;height:30px;background:rgb(0,0,0)"></i>
<i style="left:855px;top:683px;width:1px;height:30px;background:rgba(0,0,0,0.1)"></i>
<i style="left:966px;top:683px;width:1px;height:30px;background:rgba(0,0,0,0.3)"></i>
<i style="left:967px;top:683px;width:1px;height:30px;background:rgba(0,0,0,0.9)"></i>
<i style="left:1020px;top:683px;width:1px;height:30px;background:rgb(0,0,0)"></i>
<i style="left:1021px;top:683px;width:1px;height:30px;background:rgba(0,0,0,0.2)"></i>
<i style="left:907px;top:683px;width:1px;height:30px;background:rgba(0,0,0,0.15)"></i>
<i style="left:908px;top:683px;width:1px;height:30px;background:rgb(0,0,0)"></i>
<i style="left:909px;top:683px;width:1px;height:30px;background:rgba(0,0,0,0.05)"></i>
<i style="left:918px;top:683px;width:1px;height:30px;background:rgba(0,0,0,0.05)"></i>
<i style="left:919px;top:683px;width:1px;height:30px;background:rgb(0,0,0)"></i>
<i style="left:1068px;top:683px;width:1px;height:30px;background:rgba(0,0,0,0.05)"></i>
<i style="left:1069px;top:683px;width:1px;height:30px;background:rgb(0,0,0)"></i>
<i style="left:1070px;top:683px;width:1px;height:30px;background:rgba(0,0,0,0.15)"></i>
<i style="left:3px;top:720px;width:269.2px;height:1px;background:rgba(0,0,0,0.2)"></i>
<i style="left:3px;top:721px;width:269.2px;height:1px;background:rgb(0,0,0)"></i>
<i style="left:3px;top:722px;width:269.2px;height:1px;background:rgb(0,0,0)"></i>
<i style="left:272.2px;top:722px;width:636.85px;height:1px;background:rgb(0,0,0)"></i>
<i style="left:272.2px;top:723px;width:636.85px;height:1px;background:rgba(0,0,0,0.1)"></i>
<i style="left:918.95px;top:722px;width:151.2px;height:1px;background:rgb(0,0,0)"></i>
<i style="left:918.95px;top:723px;width:151.2px;height:1px;background:rgba(0,0,0,0.1)"></i>
<i style="left:186.3px;top:743px;width:83.9px;height:1px;background:rgba(0,0,0,0.3)"></i>
<i style="left:186.3px;top:744px;width:83.9px;height:1px;background:rgb(0,0,0)"></i>
<i style="left:146.3px;top:743px;width:37.9px;height:1px;background:rgba(0,0,0,0.3)"></i>
<i style="left:146.3px;top:744px;width:37.9px;height:1px;background:rgb(0,0,0)"></i>
<i style="left:272.2px;top:743px;width:636.85px;height:1px;background:rgba(0,0,0,0.1)"></i>
<i style="left:272.2px;top:744px;width:636.85px;height:1px;background:rgb(0,0,0)"></i>
<i style="left:272.2px;top:745px;width:636.85px;height:1px;background:rgba(0,0,0,0.1)"></i>
<i style="left:918.95px;top:743px;width:151.2px;height:1px;background:rgba(0,0,0,0.1)"></i>
<i style="left:918.95px;top:744px;width:151.2px;height:1px;background:rgb(0,0,0)"></i>
<i style="left:918.95px;top:745px;width:151.2px;height:1px;background:rgba(0,0,0,0.1)"></i>
<i style="left:186.3px;top:765px;width:83.9px;height:1px;background:rgba(0,0,0,0.4)"></i>
<i style="left:186.3px;top:766px;width:83.9px;height:1px;background:rgba(0,0,0,0.8)"></i>
<i style="left:272.2px;top:765px;width:636.85px;height:1px;background:rgba(0,0,0,0.3)"></i>
<i style="left:272.2px;top:766px;width:636.85px;height:1px;background:rgba(0,0,0,0.9)"></i>
<i style="left:918.95px;top:765px;width:151.2px;height:1px;background:rgba(0,0,0,0.3)"></i>
<i style="left:918.95px;top:766px;width:151.2px;height:1px;background:rgba(0,0,0,0.9)"></i>
<i style="left:186.3px;top:791px;width:83.9px;height:1px;background:rgba(0,0,0,0.1)"></i>
<i style="left:186.3px;top:792px;width:83.9px;height:1px;background:rgb(0,0,0)"></i>
<i style="left:186.3px;top:793px;width:83.9px;height:1px;background:rgba(0,0,0,0.2)"></i>
<i style="left:272.2px;top:792px;width:636.85px;height:1px;background:rgba(0,0,0,0.9)"></i>
<i style="left:272.2px;top:793px;width:636.85px;height:1px;background:rgba(0,0,0,0.3)"></i>
<i style="left:918.95px;top:792px;width:151.2px;height:1px;background:rgba(0,0,0,0.9)"></i>
<i style="left:918.95px;top:793px;width:151.2px;height:1px;background:rgba(0,0,0,0.3)"></i>
<i style="left:186.3px;top:817px;width:83.9px;height:1px;background:rgba(0,0,0,0.3)"></i>
<i style="left:186.3px;top:818px;width:83.9px;height:1px;background:rgb(0,0,0)"></i>
<i style="left:272.2px;top:817px;width:636.85px;height:1px;background:rgba(0,0,0,0.1)"></i>
<i style="left:272.2px;top:818px;width:636.85px;height:1px;background:rgb(0,0,0)"></i>
<i style="left:272.2px;top:819px;width:636.85px;height:1px;background:rgba(0,0,0,0.1)"></i>
<i style="left:918.95px;top:817px;width:151.2px;height:1px;background:rgba(0,0,0,0.1)"></i>
<i style="left:918.95px;top:818px;width:151.2px;height:1px;background:rgb(0,0,0)"></i>
<i style="left:918.95px;top:819px;width:151.2px;height:1px;background:rgba(0,0,0,0.1)"></i>
<i style="left:186.3px;top:838px;width:83.9px;height:1px;background:rgba(0,0,0,0.4)"></i>
<i style="left:186.3px;top:839px;width:83.9px;height:1px;background:rgba(0,0,0,0.8)"></i>
<i style="left:146.3px;top:838px;width:37.9px;height:1px;background:rgba(0,0,0,0.4)"></i>
<i style="left:146.3px;top:839px;width:37.9px;height:1px;background:rgba(0,0,0,0.8)"></i>
<i style="left:272.2px;top:838px;width:636.85px;height:1px;background:rgba(0,0,0,0.3)"></i>
<i style="left:272.2px;top:839px;width:636.85px;height:1px;background:rgba(0,0,0,0.9)"></i>
<i style="left:918.95px;top:838px;width:151.2px;height:1px;background:rgba(0,0,0,0.3)"></i>
<i style="left:918.95px;top:839px;width:151.2px;height:1px;background:rgba(0,0,0,0.9)"></i>
<i style="left:3px;top:862px;width:269.2px;height:1px;background:rgba(0,0,0,0.4)"></i>
<i style="left:3px;top:863px;width:269.2px;height:1px;background:rgb(0,0,0)"></i>
<i style="left:3px;top:864px;width:269.2px;height:1px;background:rgba(0,0,0,0.8)"></i>
<i style="left:272.2px;top:863px;width:636.85px;height:1px;background:rgba(0,0,0,0.3)"></i>
<i style="left:272.2px;top:864px;width:636.85px;height:1px;background:rgba(0,0,0,0.8)"></i>
<i style="left:918.95px;top:863px;width:151.2px;height:1px;background:rgba(0,0,0,0.3)"></i>
<i style="left:918.95px;top:864px;width:151.2px;height:1px;background:rgba(0,0,0,0.8)"></i>
<i style="left:2px;top:721px;width:1px;height:143px;background:rgba(0,0,0,0.1)"></i>
<i style="left:3px;top:721px;width:1px;height:143px;background:rgb(0,0,0)"></i>
<i style="left:4px;top:721px;width:1px;height:143px;background:rgb(0,0,0)"></i>
<i style="left:143px;top:721px;width:1px;height:143px;background:rgba(0,0,0,0.1)"></i>
<i style="left:144px;top:721px;width:1px;height:143px;background:rgb(0,0,0)"></i>
<i style="left:145px;top:721px;width:1px;height:143px;background:rgb(0,0,0)"></i>
<i style="left:146px;top:721px;width:1px;height:143px;background:rgba(0,0,0,0.05)"></i>
<i style="left:183px;top:721px;width:1px;height:143px;background:rgba(0,0,0,0.05)"></i>
<i style="left:184px;top:721px;width:1px;height:143px;background:rgb(0,0,0)"></i>
<i style="left:185px;top:721px;width:1px;height:143px;background:rgb(0,0,0)"></i>
<i style="left:186px;top:721px;width:1px;height:143px;background:rgba(0,0,0,0.1)"></i>
<i style="left:270px;top:721px;width:1px;height:143px;background:rgb(0,0,0)"></i>
<i style="left:271px;top:721px;width:1px;height:143px;background:rgb(0,0,0)"></i>
<i style="left:272px;top:721px;width:1px;height:143px;background:rgba(0,0,0,0.2)"></i>
<i style="left:323px;top:722px;width:1px;height:142px;background:rgba(0,0,0,0.2)"></i>
<i style="left:324px;top:722px;width:1px;height:142px;background:rgb(0,0,0)"></i>
<i style="left:377px;top:722px;width:1px;height:142px;background:rgba(0,0,0,0.1)"></i>
<i style="left:378px;top:722px;width:1px;height:142px;background:rgb(0,0,0)"></i>
<i style="left:379px;top:722px;width:1px;height:142px;background:rgba(0,0,0,0.1)"></i>
<i style="left:431px;top:722px;width:1px;height:142px;background:rgba(0,0,0,0.1)"></i>
<i style="left:432px;top:722px;width:1px;height:142px;background:rgb(0,0,0)"></i>
<i style="left:433px;top:722px;width:1px;height:142px;background:rgba(0,0,0,0.1)"></i>
<i style="left:490px;top:722px;width:1px;height:142px;background:rgba(0,0,0,0.3)"></i>
<i style="left:491px;top:722px;width:1px;height:142px;background:rgba(0,0,0,0.9)"></i>
<i style="left:544px;top:722px;width:1px;height:142px;background:rgba(0,0,0,0.1)"></i>
<i style="left:545px;top:722px;width:1px;height:142px;background:rgb(0,0,0)"></i>
<i style="left:546px;top:722px;width:1px;height:142px;background:rgba(0,0,0,0.1)"></i>
<i style="left:598px;top:722px;width:1px;height:142px;background:rgba(0,0,0,0.3)"></i>
<i style="left:599px;top:722px;width:1px;height:142px;background:rgba(0,0,0,0.9)"></i>
<i style="left:647px;top:722px;width:1px;height:142px;background:rgba(0,0,0,0.2)"></i>
<i style="left:648px;top:722px;width:1px;height:142px;background:rgb(0,0,0)"></i>
<i style="left:696px;top:722px;width:1px;height:142px;background:rgba(0,0,0,0.3)"></i>
<i style="left:697px;top:722px;width:1px;height:142px;background:rgba(0,0,0,0.9)"></i>
<i style="left:745px;top:722px;width:1px;height:142px;background:rgba(0,0,0,0.1)"></i>
<i style="left:746px;top:722px;width:1px;height:142px;background:rgb(0,0,0)"></i>
<i style="left:747px;top:722px;width:1px;height:142px;background:rgba(0,0,0,0.1)"></i>
<i style="left:799px;top:722px;width:1px;height:142px;background:rgba(0,0,0,0.2)"></i>
<i style="left:800px;top:722px;width:1px;height:142px;background:rgb(0,0,0)"></i>
<i style="left:853px;top:722px;width:1px;height:142px;background:rgba(0,0,0,0.1)"></i>
<i style="left:854px;top:722px;width:1px;height:142px;background:rgb(0,0,0)"></i>
<i style="left:855px;top:722px;width:1px;height:142px;background:rgba(0,0,0,0.1)"></i>
<i style="left:966px;top:722px;width:1px;height:142px;background:rgba(0,0,0,0.3)"></i>
<i style="left:967px;top:722px;width:1px;height:142px;background:rgba(0,0,0,0.9)"></i>
<i style="left:1020px;top:722px;width:1px;height:142px;background:rgb(0,0,0)"></i>
<i style="left:1021px;top:722px;width:1px;height:142px;background:rgba(0,0,0,0.2)"></i>
<i style="left:907px;top:722px;width:1px;height:142px;background:rgba(0,0,0,0.15)"></i>
<i style="left:908px;top:722px;width:1px;height:142px;background:rgb(0,0,0)"></i>
<i style="left:909px;top:722px;width:1px;height:142px;background:rgba(0,0,0,0.05)"></i>
<i style="left:918px;top:722px;width:1px;height:142px;background:rgba(0,0,0,0.05)"></i>
<i style="left:919px;top:722px;width:1px;height:142px;background:rgb(0,0,0)"></i>
<i style="left:1068px;top:722px;width:1px;height:142px;background:rgba(0,0,0,0.05)"></i>
<i style="left:1069px;top:722px;width:1px;height:142px;background:rgb(0,0,0)"></i>
<i style="left:1070px;top:722px;width:1px;height:142px;background:rgba(0,0,0,0.15)"></i>
<i style="left:3px;top:870px;width:269.2px;height:1px;background:rgba(0,0,0,0.3)"></i>
<i style="left:3px;top:871px;width:269.2px;height:1px;background:rgb(0,0,0)"></i>
<i style="left:3px;top:872px;width:269.2px;height:1px;background:rgba(0,0,0,0.8)"></i>
<i style="left:272.2px;top:871px;width:636.85px;height:1px;background:rgba(0,0,0,0.2)"></i>
<i style="left:272.2px;top:872px;width:636.85px;height:1px;background:rgba(0,0,0,0.9)"></i>
<i style="left:918.95px;top:871px;width:151.2px;height:1px;background:rgba(0,0,0,0.2)"></i>
<i style="left:918.95px;top:872px;width:151.2px;height:1px;background:rgba(0,0,0,0.9)"></i>
<i style="left:3px;top:897px;width:269.2px;height:1px;background:rgba(0,0,0,0.5)"></i>
<i style="left:3px;top:898px;width:269.2px;height:1px;background:rgb(0,0,0)"></i>
<i style="left:3px;top:899px;width:269.2px;height:1px;background:rgba(0,0,0,0.7)"></i>
<i style="left:272.2px;top:898px;width:636.85px;height:1px;background:rgba(0,0,0,0.4)"></i>
<i style="left:272.2px;top:899px;width:636.85px;height:1px;background:rgba(0,0,0,0.7)"></i>
<i style="left:918.95px;top:898px;width:151.2px;height:1px;background:rgba(0,0,0,0.4)"></i>
<i style="left:918.95px;top:899px;width:151.2px;height:1px;background:rgba(0,0,0,0.7)"></i>
<i style="left:2px;top:871px;width:1px;height:28px;background:rgba(0,0,0,0.1)"></i>
<i style="left:3px;top:871px;width:1px;height:28px;background:rgb(0,0,0)"></i>
<i style="left:4px;top:871px;width:1px;height:28px;background:rgb(0,0,0)"></i>
<i style="left:143px;top:871px;width:1px;height:28px;background:rgba(0,0,0,0.1)"></i>
<i style="left:144px;top:871px;width:1px;height:28px;background:rgb(0,0,0)"></i>
<i style="left:145px;top:871px;width:1px;height:28px;background:rgb(0,0,0)"></i>
<i style="left:146px;top:871px;width:1px;height:28px;background:rgba(0,0,0,0.05)"></i>
<i style="left:183px;top:871px;width:1px;height:28px;background:rgba(0,0,0,0.05)"></i>
<i style="left:184px;top:871px;width:1px;height:28px;background:rgb(0,0,0)"></i>
<i style="left:185px;top:871px;width:1px;height:28px;background:rgb(0,0,0)"></i>
<i style="left:186px;top:871px;width:1px;height:28px;background:rgba(0,0,0,0.1)"></i>
<i style="left:270px;top:871px;width:1px;height:28px;background:rgb(0,0,0)"></i>
<i style="left:271px;top:871px;width:1px;height:28px;background:rgb(0,0,0)"></i>
<i style="left:272px;top:871px;width:1px;height:28px;background:rgba(0,0,0,0.2)"></i>
<i style="left:323px;top:872px;width:1px;height:27px;background:rgba(0,0,0,0.2)"></i>
<i style="left:324px;top:872px;width:1px;height:27px;background:rgb(0,0,0)"></i>
<i style="left:377px;top:872px;width:1px;height:27px;background:rgba(0,0,0,0.1)"></i>
<i style="left:378px;top:872px;width:1px;height:27px;background:rgb(0,0,0)"></i>
<i style="left:379px;top:872px;width:1px;height:27px;background:rgba(0,0,0,0.1)"></i>
<i style="left:431px;top:872px;width:1px;height:27px;background:rgba(0,0,0,0.1)"></i>
<i style="left:432px;top:872px;width:1px;height:27px;background:rgb(0,0,0)"></i>
<i style="left:433px;top:872px;width:1px;height:27px;background:rgba(0,0,0,0.1)"></i>
<i style="left:490px;top:872px;width:1px;height:27px;background:rgba(0,0,0,0.3)"></i>
<i style="left:491px;top:872px;width:1px;height:27px;background:rgba(0,0,0,0.9)"></i>
<i style="left:544px;top:872px;width:1px;height:27px;background:rgba(0,0,0,0.1)"></i>
<i style="left:545px;top:872px;width:1px;height:27px;background:rgb(0,0,0)"></i>
<i style="left:546px;top:872px;width:1px;height:27px;background:rgba(0,0,0,0.1)"></i>
<i style="left:598px;top:872px;width:1px;height:27px;background:rgba(0,0,0,0.3)"></i>
<i style="left:599px;top:872px;width:1px;height:27px;background:rgba(0,0,0,0.9)"></i>
<i style="left:647px;top:872px;width:1px;height:27px;background:rgba(0,0,0,0.2)"></i>
<i style="left:648px;top:872px;width:1px;height:27px;background:rgb(0,0,0)"></i>
<i style="left:696px;top:872px;width:1px;height:27px;background:rgba(0,0,0,0.3)"></i>
<i style="left:697px;top:872px;width:1px;height:27px;background:rgba(0,0,0,0.9)"></i>
<i style="left:745px;top:872px;width:1px;height:27px;background:rgba(0,0,0,0.1)"></i>
<i style="left:746px;top:872px;width:1px;height:27px;background:rgb(0,0,0)"></i>
<i style="left:747px;top:872px;width:1px;height:27px;background:rgba(0,0,0,0.1)"></i>
<i style="left:799px;top:872px;width:1px;height:27px;background:rgba(0,0,0,0.2)"></i>
<i style="left:800px;top:872px;width:1px;height:27px;background:rgb(0,0,0)"></i>
<i style="left:853px;top:872px;width:1px;height:27px;background:rgba(0,0,0,0.1)"></i>
<i style="left:854px;top:872px;width:1px;height:27px;background:rgb(0,0,0)"></i>
<i style="left:855px;top:872px;width:1px;height:27px;background:rgba(0,0,0,0.1)"></i>
<i style="left:966px;top:872px;width:1px;height:27px;background:rgba(0,0,0,0.3)"></i>
<i style="left:967px;top:872px;width:1px;height:27px;background:rgba(0,0,0,0.9)"></i>
<i style="left:1020px;top:872px;width:1px;height:27px;background:rgb(0,0,0)"></i>
<i style="left:1021px;top:872px;width:1px;height:27px;background:rgba(0,0,0,0.2)"></i>
<i style="left:907px;top:872px;width:1px;height:27px;background:rgba(0,0,0,0.15)"></i>
<i style="left:908px;top:872px;width:1px;height:27px;background:rgb(0,0,0)"></i>
<i style="left:909px;top:872px;width:1px;height:27px;background:rgba(0,0,0,0.05)"></i>
<i style="left:918px;top:872px;width:1px;height:27px;background:rgba(0,0,0,0.05)"></i>
<i style="left:919px;top:872px;width:1px;height:27px;background:rgb(0,0,0)"></i>
<i style="left:1068px;top:872px;width:1px;height:27px;background:rgba(0,0,0,0.05)"></i>
<i style="left:1069px;top:872px;width:1px;height:27px;background:rgb(0,0,0)"></i>
<i style="left:1070px;top:872px;width:1px;height:27px;background:rgba(0,0,0,0.15)"></i>
</div></body></html>
